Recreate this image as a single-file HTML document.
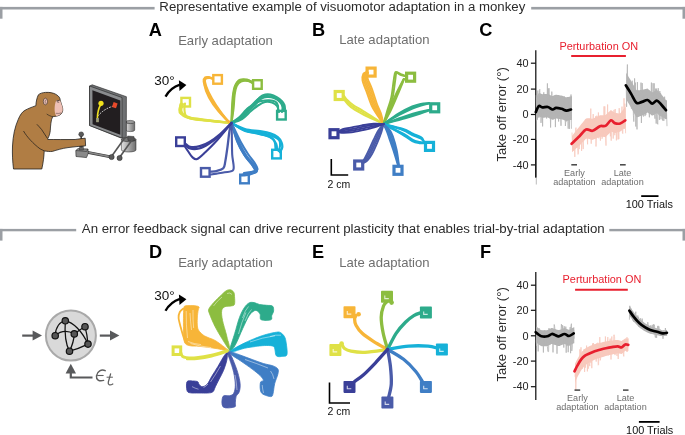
<!DOCTYPE html>
<html><head><meta charset="utf-8"><style>
html,body{margin:0;padding:0;background:#fff;}
svg{display:block;will-change:transform;}
</style></head><body>
<svg width="685" height="435" viewBox="0 0 685 435">
<rect width="685" height="435" fill="#fff"/>
<rect x="0" y="6.9" width="154.6" height="2.6" fill="#9b9fa4"/>
<rect x="0" y="6.9" width="2.5" height="11.8" fill="#9b9fa4"/>
<rect x="531.2" y="6.9" width="153.8" height="2.6" fill="#9b9fa4"/>
<rect x="682.5" y="6.9" width="2.5" height="11.8" fill="#9b9fa4"/>
<rect x="0" y="228.9" width="76.2" height="2.4" fill="#9b9fa4"/>
<rect x="0" y="228.9" width="2.5" height="11.7" fill="#9b9fa4"/>
<rect x="609.3" y="228.9" width="75.7" height="2.4" fill="#9b9fa4"/>
<rect x="682.5" y="228.9" width="2.5" height="11.7" fill="#9b9fa4"/>
<text x="159.35" y="11.0" font-size="13.22" fill="#2b2b2b" font-weight="normal" text-anchor="start" font-family='"Liberation Sans", sans-serif' >Representative example of visuomotor adaptation in a monkey</text>
<text x="81.8" y="232.8" font-size="13.25" fill="#2b2b2b" font-weight="normal" text-anchor="start" font-family='"Liberation Sans", sans-serif' >An error feedback signal can drive recurrent plasticity that enables trial-by-trial adaptation</text>
<text x="148.65" y="35.9" font-size="18.2" fill="#000" font-weight="bold" text-anchor="start" font-family='"Liberation Sans", sans-serif' >A</text>
<text x="312.0" y="35.9" font-size="18.2" fill="#000" font-weight="bold" text-anchor="start" font-family='"Liberation Sans", sans-serif' >B</text>
<text x="479.3" y="36.0" font-size="18.2" fill="#000" font-weight="bold" text-anchor="start" font-family='"Liberation Sans", sans-serif' >C</text>
<text x="149.0" y="258.2" font-size="18.2" fill="#000" font-weight="bold" text-anchor="start" font-family='"Liberation Sans", sans-serif' >D</text>
<text x="312.0" y="257.6" font-size="18.2" fill="#000" font-weight="bold" text-anchor="start" font-family='"Liberation Sans", sans-serif' >E</text>
<text x="479.9" y="257.9" font-size="18.2" fill="#000" font-weight="bold" text-anchor="start" font-family='"Liberation Sans", sans-serif' >F</text>
<text x="178.15" y="44.5" font-size="13.1" fill="#6e6e6e" font-weight="normal" text-anchor="start" font-family='"Liberation Sans", sans-serif' >Early adaptation</text>
<text x="339.25" y="44.2" font-size="13.1" fill="#6e6e6e" font-weight="normal" text-anchor="start" font-family='"Liberation Sans", sans-serif' >Late adaptation</text>
<text x="178.15" y="267.0" font-size="13.1" fill="#6e6e6e" font-weight="normal" text-anchor="start" font-family='"Liberation Sans", sans-serif' >Early adaptation</text>
<text x="339.25" y="266.6" font-size="13.1" fill="#6e6e6e" font-weight="normal" text-anchor="start" font-family='"Liberation Sans", sans-serif' >Late adaptation</text>
<text x="154.25" y="85.2" font-size="13.5" fill="#111" font-weight="normal" text-anchor="start" font-family='"Liberation Sans", sans-serif' >30°</text>
<path d="M165.5 96.6 Q170.5 87.6 180 84.6" fill="none" stroke="#000" stroke-width="2.3"/>
<path d="M186.4 85.1 L178.9 80.2 L179.5 90.9 Z" fill="#000"/>
<text x="154.25" y="299.76414" font-size="13.5" fill="#111" font-weight="normal" text-anchor="start" font-family='"Liberation Sans", sans-serif' >30°</text>
<path d="M165.5 310.79999999999995 Q170.5 301.79999999999995 180 298.79999999999995" fill="none" stroke="#000" stroke-width="2.3"/>
<path d="M186.4 299.29999999999995 L178.9 294.4 L179.5 305.1 Z" fill="#000"/>
<path d="M331.3 159.1 V175.0 H348.2" fill="none" stroke="#000" stroke-width="1.6"/>
<text x="327.6" y="187.9" font-size="10.5" fill="#111" font-weight="normal" text-anchor="start" font-family='"Liberation Sans", sans-serif' >2 cm</text>
<path d="M329.5 382.6 V403.0 H350.0" fill="none" stroke="#000" stroke-width="1.6"/>
<text x="327.6" y="414.90000000000003" font-size="10.5" fill="#111" font-weight="normal" text-anchor="start" font-family='"Liberation Sans", sans-serif' >2 cm</text>
<text transform="translate(505.6 114.35) rotate(-90)" x="0" y="0" font-size="13.07" fill="#2b2b2b" text-anchor="middle" font-family='"Liberation Sans", sans-serif'>Take off error (°)</text>
<path d="M535.8 50.3 V177.6" stroke="#111" stroke-width="1.25" fill="none"/>
<path d="M530.9 63.2 H535.8" stroke="#111" stroke-width="1.2"/>
<text x="528.6" y="66.9" font-size="10.9" fill="#222" font-weight="normal" text-anchor="end" font-family='"Liberation Sans", sans-serif' >40</text>
<path d="M530.9 89.1 H535.8" stroke="#111" stroke-width="1.2"/>
<text x="528.6" y="92.8" font-size="10.9" fill="#222" font-weight="normal" text-anchor="end" font-family='"Liberation Sans", sans-serif' >20</text>
<path d="M530.9 114.5 H535.8" stroke="#111" stroke-width="1.2"/>
<text x="528.6" y="118.2" font-size="10.9" fill="#222" font-weight="normal" text-anchor="end" font-family='"Liberation Sans", sans-serif' >0</text>
<path d="M530.9 139.4 H535.8" stroke="#111" stroke-width="1.2"/>
<text x="528.6" y="143.1" font-size="10.9" fill="#222" font-weight="normal" text-anchor="end" font-family='"Liberation Sans", sans-serif' >-20</text>
<path d="M530.9 164.9 H535.8" stroke="#111" stroke-width="1.2"/>
<text x="528.6" y="168.6" font-size="10.9" fill="#222" font-weight="normal" text-anchor="end" font-family='"Liberation Sans", sans-serif' >-40</text>
<text x="559.4" y="49.6" font-size="10.9" fill="#e8202f" font-weight="normal" text-anchor="start" font-family='"Liberation Sans", sans-serif' >Perturbation ON</text>
<path d="M571.2 56.0 H625.9" stroke="#e8202f" stroke-width="2"/>
<path d="M536.2 98.2 L537.1 96.3 L538.0 94.5 L538.9 92.8 L539.8 93.2 L540.7 93.6 L541.6 93.9 L542.5 94.2 L543.4 94.1 L544.3 94.1 L545.2 94.0 L546.0 93.9 L546.9 93.9 L547.8 93.8 L548.7 94.3 L549.6 94.8 L550.5 95.2 L551.4 95.7 L552.3 96.1 L553.2 96.0 L554.1 95.6 L555.0 95.1 L555.9 94.7 L556.8 94.7 L557.7 94.9 L558.6 95.0 L559.5 95.2 L560.4 95.4 L561.3 95.5 L562.2 95.8 L563.0 96.1 L563.9 96.5 L564.8 96.8 L565.7 97.2 L566.6 97.3 L567.5 97.1 L568.4 96.9 L569.3 96.7 L570.2 96.5 L571.1 96.3 L572.0 96.3 L572.0 120.0 L571.1 120.0 L570.2 120.1 L569.3 120.4 L568.4 120.6 L567.5 120.8 L566.6 121.0 L565.7 120.8 L564.8 120.5 L563.9 120.1 L563.0 119.8 L562.2 119.5 L561.3 119.2 L560.4 119.0 L559.5 118.9 L558.6 118.7 L557.7 118.5 L556.8 118.4 L555.9 118.4 L555.0 118.8 L554.1 119.2 L553.2 119.7 L552.3 119.8 L551.4 119.3 L550.5 118.9 L549.6 118.4 L548.7 117.9 L547.8 117.5 L546.9 117.5 L546.0 117.6 L545.2 117.6 L544.3 117.7 L543.4 117.8 L542.5 117.8 L541.6 117.6 L540.7 117.2 L539.8 116.8 L538.9 116.5 L538.0 118.1 L537.1 120.0 L536.2 121.8Z" fill="#b4b4b4"/>
<path d="M536.2 95.2L536.6 114.5L537.0 120.1L537.4 102.1L537.8 90.5L538.2 106.4L538.6 111.4L539.0 117.6L539.4 90.2L539.8 89.3L540.2 113.9L540.6 111.7L541.0 122.9L541.4 117.3L541.8 105.9L542.2 103.7L542.6 126.4L543.0 103.5L543.4 97.0L543.8 92.3L544.2 108.3L544.6 108.8L545.0 102.7L545.4 106.4L545.8 110.0L546.2 114.4L546.6 118.5L547.0 109.3L547.4 83.4L547.8 114.3L548.2 88.5L548.6 105.2L549.0 88.2L549.4 107.9L549.8 97.8L550.2 110.5L550.6 127.5L551.0 108.0L551.4 117.7L551.8 91.6L552.2 105.5L552.6 116.4L553.0 108.1L553.4 113.0L553.8 110.0L554.2 95.4L554.6 114.4L555.0 97.6L555.4 127.1L555.8 101.3L556.2 115.0L556.6 107.9L557.0 117.9L557.4 100.1L557.8 118.5L558.2 106.5L558.6 121.5L559.0 114.9L559.4 109.9L559.8 98.2L560.2 116.6L560.6 113.5L561.0 125.8L561.4 103.8L561.8 114.7L562.2 114.3L562.6 112.1L563.0 111.5L563.4 111.4L563.8 101.7L564.2 96.4L564.6 104.7L565.0 116.2L565.4 126.0L565.8 120.6L566.2 121.5L566.6 118.7L567.0 117.8L567.4 112.3L567.8 118.3L568.2 128.7L568.6 105.7L569.0 100.8L569.4 128.9L569.8 112.3L570.2 119.8L570.6 118.7L571.0 94.5L571.4 128.5L571.8 128.1" fill="none" stroke="#b4b4b4" stroke-width="0.8"/>
<path d="M572.0 135.9 L573.3 134.2 L574.7 132.5 L576.0 130.8 L577.4 129.1 L578.7 127.4 L580.1 125.7 L581.4 124.1 L582.7 122.4 L584.1 120.8 L585.4 119.1 L586.8 118.2 L588.1 118.2 L589.5 118.2 L590.8 118.4 L592.1 118.8 L593.5 118.5 L594.8 117.8 L596.2 117.1 L597.5 116.4 L598.9 115.7 L600.2 115.2 L601.5 115.2 L602.9 115.2 L604.2 115.2 L605.6 115.1 L606.9 113.8 L608.2 112.6 L609.6 111.3 L610.9 110.0 L612.3 110.9 L613.6 112.0 L615.0 112.9 L616.3 113.1 L617.6 113.3 L619.0 113.5 L620.3 113.3 L621.7 111.6 L623.0 109.8 L624.4 108.1 L625.7 107.1 L625.7 127.5 L624.4 128.2 L623.0 129.3 L621.7 130.5 L620.3 131.6 L619.0 132.0 L617.6 132.3 L616.3 132.7 L615.0 133.0 L613.6 132.6 L612.3 132.1 L610.9 131.6 L609.6 133.2 L608.2 134.5 L606.9 135.7 L605.6 136.9 L604.2 136.9 L602.9 136.8 L601.5 136.7 L600.2 136.7 L598.9 137.1 L597.5 137.7 L596.2 138.4 L594.8 139.0 L593.5 139.6 L592.1 139.9 L590.8 139.4 L589.5 139.0 L588.1 138.8 L586.8 138.6 L585.4 139.2 L584.1 140.7 L582.7 142.1 L581.4 143.5 L580.1 145.0 L578.7 146.2 L577.4 147.4 L576.0 148.6 L574.7 149.8 L573.3 151.0 L572.0 152.2Z" fill="#f8c9bd"/>
<path d="M572.0 132.5L572.4 145.0L572.8 140.4L573.2 138.4L573.6 150.5L574.0 142.0L574.4 138.8L574.8 156.9L575.2 136.1L575.6 129.1L576.0 127.6L576.4 134.5L576.8 144.8L577.2 146.2L577.6 148.5L578.0 154.4L578.4 153.2L578.8 143.0L579.2 149.1L579.6 142.5L580.0 130.5L580.4 143.4L580.8 135.9L581.2 132.8L581.6 150.9L582.0 141.3L582.4 128.7L582.8 132.6L583.2 149.1L583.6 129.9L584.0 138.9L584.4 137.4L584.8 136.0L585.2 136.3L585.6 125.2L586.0 125.0L586.4 128.4L586.8 126.1L587.2 137.5L587.6 144.3L588.0 120.0L588.4 135.4L588.8 118.9L589.2 122.4L589.6 128.0L590.0 131.7L590.4 125.7L590.8 108.6L591.2 143.7L591.6 128.0L592.0 123.7L592.4 137.6L592.8 124.2L593.2 114.1L593.6 135.4L594.0 134.5L594.4 120.6L594.8 138.1L595.2 133.4L595.6 116.3L596.0 146.5L596.4 131.6L596.8 115.7L597.2 133.0L597.6 129.5L598.0 137.9L598.4 112.5L598.8 138.3L599.2 137.1L599.6 134.3L600.0 133.2L600.4 140.7L600.8 134.4L601.2 128.1L601.6 117.4L602.0 138.7L602.4 137.3L602.8 129.9L603.2 128.3L603.6 134.5L604.0 106.4L604.4 130.1L604.8 106.4L605.2 129.2L605.6 138.2L606.0 145.6L606.4 120.4L606.8 130.0L607.2 124.0L607.6 104.5L608.0 132.3L608.4 123.3L608.8 123.9L609.2 112.6L609.6 121.8L610.0 122.8L610.4 136.3L610.8 124.4L611.2 140.7L611.6 117.0L612.0 118.8L612.4 121.3L612.8 113.7L613.2 138.6L613.6 129.6L614.0 109.9L614.4 124.5L614.8 135.2L615.2 109.0L615.6 125.1L616.0 121.2L616.4 140.4L616.8 127.6L617.2 119.6L617.6 118.1L618.0 139.5L618.4 119.1L618.8 139.1L619.2 108.2L619.6 122.0L620.0 121.6L620.4 116.6L620.8 121.4L621.2 128.9L621.6 115.8L622.0 106.6L622.4 133.0L622.8 133.6L623.2 113.8L623.6 124.0L624.0 98.3L624.4 128.9L624.8 103.6L625.2 113.6L625.6 133.3" fill="none" stroke="#f8c9bd" stroke-width="0.8"/>
<path d="M626.2 72.8 L627.2 74.5 L628.2 76.2 L629.3 77.9 L630.3 79.6 L631.3 81.3 L632.3 83.1 L633.3 84.8 L634.4 86.6 L635.4 88.3 L636.4 90.1 L637.4 90.4 L638.4 90.3 L639.5 90.2 L640.5 90.1 L641.5 90.0 L642.5 89.8 L643.5 89.5 L644.6 89.3 L645.6 89.0 L646.6 88.7 L647.6 88.5 L648.6 89.4 L649.7 90.3 L650.7 91.2 L651.7 92.1 L652.7 92.2 L653.7 91.6 L654.8 91.0 L655.8 90.4 L656.8 89.8 L657.8 90.8 L658.8 91.8 L659.9 92.8 L660.9 93.8 L661.9 95.0 L662.9 96.3 L663.9 97.6 L665.0 99.0 L666.0 100.3 L667.0 100.3 L667.0 119.0 L666.0 119.0 L665.0 118.4 L663.9 117.9 L662.9 117.3 L661.9 116.7 L660.9 116.3 L659.9 116.0 L658.8 115.0 L657.8 114.0 L656.8 113.1 L655.8 113.7 L654.8 114.3 L653.7 115.0 L652.7 115.6 L651.7 115.5 L650.7 114.6 L649.7 113.8 L648.6 113.2 L647.6 112.6 L646.6 113.1 L645.6 113.7 L644.6 114.2 L643.5 114.7 L642.5 115.3 L641.5 115.8 L640.5 116.1 L639.5 116.5 L638.4 116.9 L637.4 117.2 L636.4 117.2 L635.4 115.5 L634.4 113.7 L633.3 111.9 L632.3 110.0 L631.3 108.2 L630.3 106.4 L629.3 104.6 L628.2 102.8 L627.2 101.0 L626.2 99.2Z" fill="#b4b4b4"/>
<path d="M626.2 84.8L626.6 106.8L627.0 76.9L627.4 64.5L627.8 92.3L628.2 98.2L628.6 95.6L629.0 98.2L629.4 90.4L629.8 84.9L630.2 83.6L630.6 91.2L631.0 89.8L631.4 108.6L631.8 105.1L632.2 80.7L632.6 107.7L633.0 97.9L633.4 115.2L633.8 121.6L634.2 108.5L634.6 78.4L635.0 111.4L635.4 82.6L635.8 126.5L636.2 95.2L636.6 101.8L637.0 129.4L637.4 82.1L637.8 104.6L638.2 90.6L638.6 97.4L639.0 93.9L639.4 113.7L639.8 99.9L640.2 108.7L640.6 112.7L641.0 82.6L641.4 123.0L641.8 100.3L642.2 83.1L642.6 95.1L643.0 115.0L643.4 116.5L643.8 94.4L644.2 104.0L644.6 105.7L645.0 116.1L645.4 100.5L645.8 114.9L646.2 91.3L646.6 93.2L647.0 110.2L647.4 110.8L647.8 101.0L648.2 109.6L648.6 104.8L649.0 112.2L649.4 117.3L649.8 109.6L650.2 113.6L650.6 99.2L651.0 97.6L651.4 82.6L651.8 109.9L652.2 105.5L652.6 111.5L653.0 83.2L653.4 98.7L653.8 97.6L654.2 83.3L654.6 114.9L655.0 118.7L655.4 88.6L655.8 108.4L656.2 123.6L656.6 88.6L657.0 114.8L657.4 122.9L657.8 124.3L658.2 88.2L658.6 91.9L659.0 106.7L659.4 119.9L659.8 91.0L660.2 96.8L660.6 93.3L661.0 119.3L661.4 100.0L661.8 113.3L662.2 114.4L662.6 120.5L663.0 112.5L663.4 111.9L663.8 120.9L664.2 114.1L664.6 96.7L665.0 104.7L665.4 119.1L665.8 112.3L666.2 107.8L666.6 113.4L667.0 126.2" fill="none" stroke="#b4b4b4" stroke-width="0.8"/>
<path d="M535.80 112.20 C536.30 111.17 537.72 106.80 538.80 106.00 C539.88 105.20 540.80 107.23 542.30 107.40 C543.80 107.57 546.08 106.65 547.80 107.00 C549.52 107.35 551.22 109.37 552.60 109.50 C553.98 109.63 554.60 107.92 556.10 107.80 C557.60 107.68 559.88 108.33 561.60 108.80 C563.32 109.27 564.83 110.48 566.40 110.60 C567.97 110.72 570.23 109.68 571.00 109.50" fill="none" stroke="#000" stroke-width="2.7" stroke-linejoin="round" stroke-linecap="round"/>
<path d="M571.60 143.70 C572.95 142.42 577.28 138.37 579.70 136.00 C582.12 133.63 583.95 130.37 586.10 129.50 C588.25 128.63 590.30 131.35 592.60 130.80 C594.90 130.25 597.75 127.02 599.90 126.20 C602.05 125.38 603.65 126.88 605.50 125.90 C607.35 124.92 609.47 120.77 611.00 120.30 C612.53 119.83 613.17 122.57 614.70 123.10 C616.23 123.63 618.43 123.97 620.20 123.50 C621.97 123.03 624.45 120.83 625.30 120.30" fill="none" stroke="#e8202f" stroke-width="2.7" stroke-linejoin="round" stroke-linecap="round"/>
<path d="M625.80 85.30 C626.67 86.68 629.20 90.68 631.00 93.60 C632.80 96.52 634.77 101.42 636.60 102.80 C638.43 104.18 640.17 102.37 642.00 101.90 C643.83 101.43 645.90 99.70 647.60 100.00 C649.30 100.30 650.67 103.60 652.20 103.70 C653.73 103.80 655.27 100.43 656.80 100.60 C658.33 100.77 659.87 103.10 661.40 104.70 C662.93 106.30 665.23 109.28 666.00 110.20" fill="none" stroke="#000" stroke-width="2.7" stroke-linejoin="round" stroke-linecap="round"/>
<path d="M571.3 164.8 H577" stroke="#444" stroke-width="1.5"/>
<path d="M620 164.8 H625.7" stroke="#444" stroke-width="1.5"/>
<text x="574.4" y="175.8" font-size="9.1" fill="#6e6e6e" font-weight="normal" text-anchor="middle" font-family='"Liberation Sans", sans-serif' >Early</text>
<text x="574.4" y="184.9" font-size="9.1" fill="#6e6e6e" font-weight="normal" text-anchor="middle" font-family='"Liberation Sans", sans-serif' >adaptation</text>
<text x="622.5" y="175.8" font-size="9.1" fill="#6e6e6e" font-weight="normal" text-anchor="middle" font-family='"Liberation Sans", sans-serif' >Late</text>
<text x="622.5" y="184.9" font-size="9.1" fill="#6e6e6e" font-weight="normal" text-anchor="middle" font-family='"Liberation Sans", sans-serif' >adaptation</text>
<path d="M641.2 196.1 H658.5" stroke="#000" stroke-width="1.8"/>
<text x="625.7" y="208.2" font-size="10.9" fill="#111" font-weight="normal" text-anchor="start" font-family='"Liberation Sans", sans-serif' >100 Trials</text>
<text transform="translate(505.6 334.35) rotate(-90)" x="0" y="0" font-size="13.07" fill="#2b2b2b" text-anchor="middle" font-family='"Liberation Sans", sans-serif'>Take off error (°)</text>
<path d="M535.8 271.9 V400.0" stroke="#111" stroke-width="1.25" fill="none"/>
<path d="M530.9 285.2 H535.8" stroke="#111" stroke-width="1.2"/>
<text x="528.6" y="288.9" font-size="10.9" fill="#222" font-weight="normal" text-anchor="end" font-family='"Liberation Sans", sans-serif' >40</text>
<path d="M530.9 310.3 H535.8" stroke="#111" stroke-width="1.2"/>
<text x="528.6" y="314.0" font-size="10.9" fill="#222" font-weight="normal" text-anchor="end" font-family='"Liberation Sans", sans-serif' >20</text>
<path d="M530.9 335.8 H535.8" stroke="#111" stroke-width="1.2"/>
<text x="528.6" y="339.5" font-size="10.9" fill="#222" font-weight="normal" text-anchor="end" font-family='"Liberation Sans", sans-serif' >0</text>
<path d="M530.9 361.1 H535.8" stroke="#111" stroke-width="1.2"/>
<text x="528.6" y="364.8" font-size="10.9" fill="#222" font-weight="normal" text-anchor="end" font-family='"Liberation Sans", sans-serif' >-20</text>
<path d="M530.9 386.7 H535.8" stroke="#111" stroke-width="1.2"/>
<text x="528.6" y="390.4" font-size="10.9" fill="#222" font-weight="normal" text-anchor="end" font-family='"Liberation Sans", sans-serif' >-40</text>
<text x="562.6" y="283.2" font-size="10.9" fill="#e8202f" font-weight="normal" text-anchor="start" font-family='"Liberation Sans", sans-serif' >Perturbation ON</text>
<path d="M575.1 289.8 H627.8" stroke="#e8202f" stroke-width="2"/>
<path d="M536.2 326.6 L537.2 327.3 L538.1 328.1 L539.1 328.8 L540.0 329.4 L541.0 329.9 L541.9 330.2 L542.9 330.2 L543.8 330.2 L544.8 330.2 L545.7 330.2 L546.7 330.2 L547.6 330.0 L548.6 329.6 L549.5 329.1 L550.5 328.6 L551.4 328.1 L552.4 328.1 L553.3 328.4 L554.3 328.7 L555.2 329.0 L556.2 329.4 L557.2 329.7 L558.1 330.0 L559.1 330.1 L560.0 329.7 L561.0 329.4 L561.9 329.0 L562.9 328.6 L563.8 328.2 L564.8 328.1 L565.7 328.5 L566.7 328.9 L567.6 329.3 L568.6 329.7 L569.5 329.7 L570.5 329.2 L571.4 328.6 L572.4 328.1 L573.3 327.5 L574.3 327.3 L574.3 343.3 L573.3 343.5 L572.4 344.0 L571.4 344.6 L570.5 345.1 L569.5 345.7 L568.6 345.7 L567.6 345.3 L566.7 344.8 L565.7 344.4 L564.8 344.0 L563.8 344.2 L562.9 344.5 L561.9 344.9 L561.0 345.3 L560.0 345.7 L559.1 346.1 L558.1 346.0 L557.2 345.7 L556.2 345.3 L555.2 345.0 L554.3 344.7 L553.3 344.4 L552.4 344.1 L551.4 344.1 L550.5 344.6 L549.5 345.0 L548.6 345.5 L547.6 346.0 L546.7 346.2 L545.7 346.2 L544.8 346.2 L543.8 346.2 L542.9 346.2 L541.9 346.2 L541.0 345.9 L540.0 345.3 L539.1 344.7 L538.1 344.1 L537.2 343.3 L536.2 342.5Z" fill="#b4b4b4"/>
<path d="M536.2 340.3L536.6 346.0L537.0 328.7L537.4 328.4L537.8 337.6L538.2 351.4L538.6 338.8L539.0 328.0L539.4 330.6L539.8 335.1L540.2 345.1L540.6 336.0L541.0 334.0L541.4 335.1L541.8 338.3L542.2 332.1L542.6 336.6L543.0 339.2L543.4 352.5L543.8 336.1L544.2 346.0L544.6 330.4L545.0 344.9L545.4 338.2L545.8 333.3L546.2 336.4L546.6 345.4L547.0 334.6L547.4 346.5L547.8 351.1L548.2 351.9L548.6 351.6L549.0 328.1L549.4 338.8L549.8 331.2L550.2 344.3L550.6 335.7L551.0 336.9L551.4 339.0L551.8 330.7L552.2 335.4L552.6 330.2L553.0 352.4L553.4 332.0L553.8 335.1L554.2 324.5L554.6 326.3L555.0 330.2L555.4 343.2L555.8 343.1L556.2 338.5L556.6 332.0L557.0 353.7L557.4 330.0L557.8 331.1L558.2 341.2L558.6 330.6L559.0 339.1L559.4 345.8L559.8 335.7L560.2 340.0L560.6 336.3L561.0 331.6L561.4 324.2L561.8 328.0L562.2 335.2L562.6 325.2L563.0 331.5L563.4 336.8L563.8 347.6L564.2 326.2L564.6 331.1L565.0 336.8L565.4 339.9L565.8 326.6L566.2 352.7L566.6 330.3L567.0 346.1L567.4 334.3L567.8 339.8L568.2 352.2L568.6 343.1L569.0 337.6L569.4 330.1L569.8 331.9L570.2 327.1L570.6 353.2L571.0 325.9L571.4 323.7L571.8 350.9L572.2 347.1L572.6 332.1L573.0 342.3L573.4 328.9L573.8 330.2L574.2 338.7" fill="none" stroke="#b4b4b4" stroke-width="0.8"/>
<path d="M575.0 363.7 L576.3 361.0 L577.7 358.4 L579.0 356.2 L580.3 354.0 L581.7 352.1 L583.0 350.7 L584.3 349.3 L585.7 348.3 L587.0 347.6 L588.4 346.8 L589.7 346.1 L591.0 345.6 L592.4 345.1 L593.7 344.6 L595.0 344.1 L596.4 343.7 L597.7 343.4 L599.0 343.0 L600.4 342.7 L601.7 342.4 L603.0 342.1 L604.4 341.7 L605.7 341.4 L607.0 341.2 L608.4 341.0 L609.7 340.8 L611.0 340.6 L612.4 340.4 L613.7 340.3 L615.0 340.1 L616.4 340.0 L617.7 339.9 L619.1 340.3 L620.4 340.7 L621.7 341.0 L623.1 340.0 L624.4 338.9 L625.7 338.3 L627.1 338.6 L628.4 338.8 L628.4 350.9 L627.1 350.8 L625.7 350.7 L624.4 351.5 L623.1 352.7 L621.7 353.9 L620.4 353.8 L619.1 353.5 L617.7 353.3 L616.4 353.6 L615.0 353.9 L613.7 354.1 L612.4 354.4 L611.0 354.7 L609.7 355.0 L608.4 355.3 L607.0 355.7 L605.7 356.0 L604.4 356.4 L603.0 356.9 L601.7 357.3 L600.4 357.7 L599.0 358.2 L597.7 358.6 L596.4 359.1 L595.0 359.6 L593.7 360.2 L592.4 360.8 L591.0 361.5 L589.7 362.2 L588.4 363.1 L587.0 364.0 L585.7 365.0 L584.3 366.3 L583.0 367.9 L581.7 369.6 L580.3 371.7 L579.0 374.2 L577.7 376.6 L576.3 379.5 L575.0 382.4Z" fill="#f8c9bd"/>
<path d="M575.0 376.7L575.4 368.6L575.8 390.4L576.2 374.3L576.6 369.6L577.0 371.8L577.4 362.0L577.8 359.9L578.2 370.6L578.6 360.5L579.0 372.5L579.4 360.8L579.8 349.4L580.2 351.7L580.6 354.3L581.0 347.3L581.4 358.6L581.8 356.7L582.2 368.7L582.6 351.8L583.0 355.9L583.4 363.4L583.8 364.7L584.2 349.0L584.6 371.9L585.0 351.0L585.4 367.7L585.8 353.0L586.2 351.9L586.6 345.6L587.0 353.7L587.4 371.4L587.8 349.5L588.2 368.8L588.6 366.5L589.0 350.7L589.4 363.9L589.8 366.1L590.2 350.8L590.6 348.9L591.0 363.0L591.4 355.8L591.8 368.2L592.2 356.2L592.6 343.5L593.0 351.6L593.4 343.0L593.8 358.3L594.2 357.7L594.6 348.2L595.0 344.6L595.4 359.0L595.8 348.1L596.2 361.6L596.6 343.5L597.0 348.5L597.4 346.4L597.8 342.7L598.2 365.2L598.6 364.6L599.0 345.4L599.4 356.7L599.8 337.1L600.2 360.4L600.6 358.8L601.0 347.0L601.4 346.8L601.8 351.3L602.2 353.0L602.6 346.5L603.0 342.8L603.4 347.0L603.8 345.7L604.2 355.1L604.6 349.3L605.0 350.4L605.4 336.5L605.8 345.5L606.2 345.4L606.6 344.4L607.0 347.2L607.4 345.8L607.8 337.1L608.2 355.4L608.6 355.1L609.0 344.1L609.4 352.6L609.8 341.0L610.2 338.6L610.6 346.0L611.0 359.5L611.4 346.6L611.8 336.5L612.2 349.1L612.6 343.2L613.0 342.1L613.4 349.8L613.8 334.9L614.2 334.8L614.6 336.8L615.0 355.1L615.4 347.6L615.8 342.7L616.2 342.1L616.6 351.6L617.0 355.9L617.4 341.7L617.8 348.6L618.2 359.0L618.6 351.3L619.0 344.8L619.4 349.5L619.8 348.0L620.2 352.1L620.6 349.9L621.0 344.3L621.4 346.9L621.8 350.2L622.2 342.7L622.6 347.4L623.0 340.6L623.4 354.7L623.8 356.4L624.2 340.0L624.6 351.0L625.0 346.1L625.4 345.4L625.8 343.2L626.2 346.6L626.6 351.5L627.0 337.2L627.4 351.6L627.8 343.5L628.2 338.3" fill="none" stroke="#f8c9bd" stroke-width="0.8"/>
<path d="M629.4 305.8 L630.3 307.1 L631.3 308.5 L632.2 309.9 L633.2 311.3 L634.1 312.6 L635.0 313.7 L636.0 314.8 L636.9 315.9 L637.9 317.0 L638.8 318.1 L639.7 319.0 L640.7 319.8 L641.6 320.5 L642.6 321.3 L643.5 322.0 L644.4 322.8 L645.4 323.4 L646.3 323.9 L647.3 324.5 L648.2 325.0 L649.1 325.5 L650.1 326.1 L651.0 326.4 L652.0 326.7 L652.9 327.0 L653.8 327.4 L654.8 327.7 L655.7 328.0 L656.7 328.3 L657.6 328.6 L658.5 328.9 L659.5 329.2 L660.4 329.6 L661.4 329.9 L662.3 330.2 L663.2 330.4 L664.2 330.3 L665.1 330.2 L666.1 330.1 L667.0 330.1 L667.0 335.6 L666.1 335.7 L665.1 335.9 L664.2 336.1 L663.2 336.3 L662.3 336.3 L661.4 336.1 L660.4 335.9 L659.5 335.7 L658.5 335.5 L657.6 335.3 L656.7 335.1 L655.7 334.9 L654.8 334.7 L653.8 334.5 L652.9 334.3 L652.0 334.1 L651.0 333.9 L650.1 333.7 L649.1 333.3 L648.2 332.9 L647.3 332.4 L646.3 332.0 L645.4 331.6 L644.4 331.1 L643.5 330.4 L642.6 329.8 L641.6 329.1 L640.7 328.5 L639.7 327.8 L638.8 327.0 L637.9 326.0 L636.9 325.0 L636.0 323.9 L635.0 322.9 L634.1 321.9 L633.2 320.7 L632.2 319.5 L631.3 318.2 L630.3 316.9 L629.4 315.6Z" fill="#b4b4b4"/>
<path d="M629.4 319.7L629.8 305.8L630.2 313.4L630.6 311.1L631.0 308.7L631.4 310.7L631.8 311.6L632.2 314.2L632.6 317.1L633.0 320.6L633.4 317.3L633.8 322.0L634.2 319.3L634.6 318.1L635.0 317.0L635.4 314.0L635.8 311.7L636.2 319.0L636.6 319.1L637.0 321.7L637.4 322.2L637.8 315.5L638.2 318.5L638.6 317.1L639.0 326.9L639.4 322.4L639.8 323.7L640.2 319.6L640.6 318.3L641.0 321.6L641.4 323.9L641.8 326.6L642.2 318.6L642.6 326.7L643.0 322.0L643.4 323.7L643.8 324.8L644.2 324.7L644.6 328.6L645.0 330.6L645.4 328.6L645.8 325.2L646.2 329.3L646.6 329.3L647.0 331.4L647.4 329.3L647.8 322.2L648.2 325.7L648.6 327.3L649.0 332.6L649.4 328.8L649.8 332.9L650.2 330.8L650.6 325.4L651.0 330.1L651.4 332.1L651.8 331.6L652.2 324.9L652.6 331.9L653.0 328.4L653.4 324.3L653.8 328.7L654.2 324.6L654.6 326.4L655.0 335.9L655.4 337.6L655.8 334.8L656.2 332.8L656.6 337.8L657.0 332.6L657.4 328.4L657.8 325.9L658.2 334.8L658.6 326.2L659.0 326.4L659.4 330.1L659.8 332.5L660.2 329.7L660.6 335.8L661.0 332.4L661.4 333.4L661.8 334.3L662.2 331.3L662.6 333.8L663.0 338.8L663.4 330.4L663.8 333.5L664.2 334.5L664.6 331.4L665.0 332.8L665.4 328.0L665.8 331.6L666.2 332.8L666.6 335.7L667.0 335.2" fill="none" stroke="#b4b4b4" stroke-width="0.8"/>
<path d="M535.70 332.20 C536.17 332.58 537.53 333.82 538.50 334.50 C539.47 335.18 540.05 336.00 541.50 336.30 C542.95 336.60 545.48 336.68 547.20 336.30 C548.92 335.92 550.50 334.22 551.80 334.00 C553.10 333.78 553.85 334.62 555.00 335.00 C556.15 335.38 557.12 336.47 558.70 336.30 C560.28 336.13 562.77 334.05 564.50 334.00 C566.23 333.95 567.57 336.10 569.10 336.00 C570.63 335.90 572.93 333.83 573.70 333.40" fill="none" stroke="#000" stroke-width="2.7" stroke-linejoin="round" stroke-linecap="round"/>
<path d="M574.50 371.30 C575.00 370.32 576.38 367.38 577.50 365.40 C578.62 363.42 579.95 361.03 581.20 359.40 C582.45 357.77 583.63 356.60 585.00 355.60 C586.37 354.60 587.78 354.13 589.40 353.40 C591.02 352.67 592.95 351.82 594.70 351.20 C596.45 350.58 598.03 350.20 599.90 349.70 C601.77 349.20 603.90 348.63 605.90 348.20 C607.90 347.77 609.92 347.40 611.90 347.10 C613.88 346.80 616.18 346.35 617.80 346.40 C619.42 346.45 620.35 347.73 621.60 347.40 C622.85 347.07 624.18 344.82 625.30 344.40 C626.42 343.98 627.80 344.82 628.30 344.90" fill="none" stroke="#e8202f" stroke-width="2.7" stroke-linejoin="round" stroke-linecap="round"/>
<path d="M629.40 310.70 C630.13 311.73 632.15 314.83 633.80 316.90 C635.45 318.97 637.47 321.38 639.30 323.10 C641.13 324.82 642.97 326.05 644.80 327.20 C646.63 328.35 648.23 329.23 650.30 330.00 C652.37 330.77 655.12 331.23 657.20 331.80 C659.28 332.37 661.18 333.23 662.80 333.40 C664.42 333.57 666.22 332.90 666.90 332.80" fill="none" stroke="#000" stroke-width="2.7" stroke-linejoin="round" stroke-linecap="round"/>
<path d="M574.5 390.1 H580.2" stroke="#444" stroke-width="1.5"/>
<path d="M623 390.1 H628.5" stroke="#444" stroke-width="1.5"/>
<text x="577.4" y="400.7" font-size="9.1" fill="#6e6e6e" font-weight="normal" text-anchor="middle" font-family='"Liberation Sans", sans-serif' >Early</text>
<text x="577.4" y="409.6" font-size="9.1" fill="#6e6e6e" font-weight="normal" text-anchor="middle" font-family='"Liberation Sans", sans-serif' >adaptation</text>
<text x="625.5" y="400.7" font-size="9.1" fill="#6e6e6e" font-weight="normal" text-anchor="middle" font-family='"Liberation Sans", sans-serif' >Late</text>
<text x="625.5" y="409.6" font-size="9.1" fill="#6e6e6e" font-weight="normal" text-anchor="middle" font-family='"Liberation Sans", sans-serif' >adaptation</text>
<path d="M638.9 421.9 H659.6" stroke="#000" stroke-width="1.8"/>
<text x="626.1" y="433.5" font-size="10.9" fill="#111" font-weight="normal" text-anchor="start" font-family='"Liberation Sans", sans-serif' >100 Trials</text>
<path d="M536.3 160 V184.5" stroke="#b4b4b4" stroke-width="0.9"/>
<path d="M535.8 140 V177.6" stroke="#111" stroke-width="1.25"/>
<path d="M383.50 124.00 C381.16 122.92 373.08 119.24 369.44 117.52 C365.79 115.79 364.70 115.35 361.62 113.64 C358.55 111.93 353.74 109.35 350.98 107.25 C348.23 105.15 346.37 102.88 345.10 101.04 C343.83 99.19 343.64 97.00 343.35 96.19" fill="none" stroke="#dfe146" stroke-width="1.9" stroke-linecap="round" stroke-linejoin="round" opacity="1"/>
<path d="M383.50 124.00 C381.25 122.75 373.52 118.45 370.00 116.50 C366.48 114.55 365.42 114.05 362.40 112.30 C359.38 110.55 354.63 108.00 351.90 106.00 C349.17 104.00 347.37 101.97 346.00 100.30 C344.63 98.63 344.08 96.72 343.70 96.00" fill="none" stroke="#dfe146" stroke-width="1.9" stroke-linecap="round" stroke-linejoin="round" opacity="1"/>
<path d="M383.50 124.00 C381.34 122.58 373.95 117.66 370.56 115.48 C367.18 113.31 366.14 112.75 363.18 110.96 C360.22 109.17 355.53 106.65 352.82 104.75 C350.10 102.85 348.36 101.05 346.90 99.56 C345.44 98.07 344.53 96.44 344.05 95.81" fill="none" stroke="#dfe146" stroke-width="1.9" stroke-linecap="round" stroke-linejoin="round" opacity="1"/>
<rect x="335.20" y="91.50" width="8.0" height="8.0" fill="none" stroke="#dfe146" stroke-width="3.2"/>
<path d="M383.50 124.00 C382.45 122.48 379.17 117.88 377.22 114.86 C375.26 111.83 373.58 109.83 371.75 105.85 C369.93 101.86 367.82 95.13 366.28 90.93 C364.75 86.74 363.03 83.51 362.53 80.68 C362.04 77.84 362.56 75.42 363.30 73.93 C364.05 72.45 366.37 72.12 366.98 71.76" fill="none" stroke="#f7b538" stroke-width="1.9" stroke-linecap="round" stroke-linejoin="round" opacity="1"/>
<path d="M383.50 124.00 C382.60 122.40 379.85 117.54 378.11 114.43 C376.36 111.31 374.76 109.32 373.03 105.32 C371.29 101.32 369.22 94.58 367.69 90.42 C366.16 86.25 364.44 83.04 363.87 80.34 C363.29 77.64 363.69 75.60 364.25 74.22 C364.81 72.83 366.74 72.39 367.24 72.03" fill="none" stroke="#f7b538" stroke-width="1.9" stroke-linecap="round" stroke-linejoin="round" opacity="1"/>
<path d="M383.50 124.00 C382.75 122.33 380.53 117.20 379.00 114.00 C377.47 110.80 375.95 108.82 374.30 104.80 C372.65 100.78 370.62 94.03 369.10 89.90 C367.58 85.77 365.85 82.57 365.20 80.00 C364.55 77.43 364.82 75.78 365.20 74.50 C365.58 73.22 367.12 72.67 367.50 72.30" fill="none" stroke="#f7b538" stroke-width="1.9" stroke-linecap="round" stroke-linejoin="round" opacity="1"/>
<path d="M383.50 124.00 C382.90 122.26 381.21 116.86 379.89 113.57 C378.57 110.29 377.14 108.31 375.57 104.28 C374.01 100.25 372.01 93.49 370.51 89.38 C369.00 85.28 367.26 82.10 366.53 79.66 C365.81 77.23 365.94 75.97 366.15 74.78 C366.35 73.60 367.49 72.94 367.76 72.57" fill="none" stroke="#f7b538" stroke-width="1.9" stroke-linecap="round" stroke-linejoin="round" opacity="1"/>
<path d="M383.50 124.00 C383.05 122.19 381.89 116.52 380.78 113.14 C379.68 109.77 378.32 107.80 376.85 103.75 C375.37 99.71 373.41 92.94 371.92 88.87 C370.42 84.79 368.67 81.62 367.87 79.32 C367.06 77.02 367.07 76.15 367.10 75.07 C367.12 73.99 367.86 73.21 368.02 72.84" fill="none" stroke="#f7b538" stroke-width="1.9" stroke-linecap="round" stroke-linejoin="round" opacity="1"/>
<rect x="367.10" y="68.10" width="8.0" height="8.0" fill="none" stroke="#f7b538" stroke-width="3.2"/>
<path d="M383.50 124.00 C384.17 121.64 386.22 114.31 387.53 109.85 C388.83 105.39 390.29 102.25 391.33 97.25 C392.37 92.26 393.06 84.09 393.76 79.88 C394.46 75.67 394.38 72.97 395.54 71.99 C396.69 71.02 399.02 73.40 400.67 74.04 C402.33 74.67 404.66 75.52 405.45 75.82" fill="none" stroke="#8cbd40" stroke-width="1.9" stroke-linecap="round" stroke-linejoin="round" opacity="1"/>
<path d="M383.50 124.00 C384.33 121.69 386.94 114.56 388.47 110.15 C390.00 105.74 391.54 102.55 392.67 97.55 C393.80 92.54 394.61 84.21 395.24 80.12 C395.87 76.03 395.62 73.87 396.46 73.01 C397.31 72.15 398.85 74.44 400.33 74.96 C401.81 75.49 404.51 75.98 405.35 76.18" fill="none" stroke="#8cbd40" stroke-width="1.9" stroke-linecap="round" stroke-linejoin="round" opacity="1"/>
<rect x="406.60" y="73.20" width="8.0" height="8.0" fill="none" stroke="#8cbd40" stroke-width="3.2"/>
<path d="M383.50 124.00 C384.44 121.60 387.05 114.69 389.16 109.62 C391.27 104.56 393.74 98.75 396.16 93.62 C398.58 88.50 402.42 81.35 403.67 78.90" fill="none" stroke="#8cbd40" stroke-width="1.9" stroke-linecap="round" stroke-linejoin="round" opacity="1"/>
<path d="M383.50 124.00 C384.58 121.67 387.75 115.00 390.00 110.00 C392.25 105.00 394.68 99.17 397.00 94.00 C399.32 88.83 402.75 81.50 403.90 79.00" fill="none" stroke="#8cbd40" stroke-width="1.9" stroke-linecap="round" stroke-linejoin="round" opacity="1"/>
<path d="M383.50 124.00 C384.72 121.73 388.45 115.31 390.84 110.38 C393.23 105.44 395.62 99.59 397.84 94.38 C400.05 89.16 403.08 81.65 404.13 79.10" fill="none" stroke="#8cbd40" stroke-width="1.9" stroke-linecap="round" stroke-linejoin="round" opacity="1"/>
<path d="M383.50 124.00 C385.98 122.27 393.61 116.51 398.40 113.59 C403.18 110.67 408.48 108.10 412.20 106.48 C415.92 104.87 417.89 104.48 420.70 103.91 C423.51 103.34 427.67 103.20 429.06 103.05" fill="none" stroke="#2dab8b" stroke-width="1.9" stroke-linecap="round" stroke-linejoin="round" opacity="1"/>
<path d="M383.50 124.00 C386.05 122.38 393.95 117.07 398.80 114.30 C403.65 111.53 408.92 109.00 412.60 107.40 C416.28 105.80 418.15 105.38 420.90 104.70 C423.65 104.02 427.73 103.53 429.10 103.30" fill="none" stroke="#2dab8b" stroke-width="1.9" stroke-linecap="round" stroke-linejoin="round" opacity="1"/>
<path d="M383.50 124.00 C386.12 122.50 394.29 117.62 399.20 115.01 C404.12 112.39 409.35 109.90 413.00 108.32 C416.65 106.73 418.41 106.28 421.10 105.49 C423.79 104.69 427.80 103.87 429.14 103.55" fill="none" stroke="#2dab8b" stroke-width="1.9" stroke-linecap="round" stroke-linejoin="round" opacity="1"/>
<rect x="430.70" y="103.80" width="8.0" height="8.0" fill="none" stroke="#2dab8b" stroke-width="3.2"/>
<path d="M383.50 124.00 C387.15 122.70 399.47 118.22 405.43 116.22 C411.39 114.23 415.31 113.06 419.24 112.02 C423.17 110.98 427.40 110.30 429.03 109.96" fill="none" stroke="#2dab8b" stroke-width="1.9" stroke-linecap="round" stroke-linejoin="round" opacity="1"/>
<path d="M383.50 124.00 C387.20 122.85 399.70 118.95 405.70 117.10 C411.70 115.25 415.60 114.05 419.50 112.90 C423.40 111.75 427.50 110.65 429.10 110.20" fill="none" stroke="#2dab8b" stroke-width="1.9" stroke-linecap="round" stroke-linejoin="round" opacity="1"/>
<path d="M383.50 124.00 C387.25 123.00 399.93 119.68 405.97 117.98 C412.01 116.27 415.89 115.04 419.76 113.78 C423.63 112.52 427.60 111.00 429.17 110.44" fill="none" stroke="#2dab8b" stroke-width="1.9" stroke-linecap="round" stroke-linejoin="round" opacity="1"/>
<path d="M383.50 124.00 C386.77 124.81 398.21 127.29 403.12 128.89 C408.02 130.48 409.91 132.18 412.93 133.57 C415.96 134.97 419.45 136.03 421.24 137.25 C423.03 138.46 423.25 140.27 423.66 140.87" fill="none" stroke="#16b1d8" stroke-width="1.9" stroke-linecap="round" stroke-linejoin="round" opacity="1"/>
<path d="M383.50 124.00 C386.73 124.92 398.05 127.78 402.90 129.50 C407.75 131.22 409.60 132.92 412.60 134.30 C415.60 135.68 419.08 136.68 420.90 137.80 C422.72 138.92 423.07 140.47 423.50 141.00" fill="none" stroke="#16b1d8" stroke-width="1.9" stroke-linecap="round" stroke-linejoin="round" opacity="1"/>
<path d="M383.50 124.00 C386.70 125.02 397.89 128.27 402.68 130.11 C407.48 131.95 409.29 133.65 412.27 135.03 C415.24 136.40 418.71 137.34 420.56 138.35 C422.41 139.37 422.88 140.66 423.34 141.13" fill="none" stroke="#16b1d8" stroke-width="1.9" stroke-linecap="round" stroke-linejoin="round" opacity="1"/>
<rect x="425.50" y="142.40" width="8.0" height="8.0" fill="none" stroke="#16b1d8" stroke-width="3.2"/>
<path d="M383.50 124.00 C387.02 125.74 399.71 131.80 404.62 134.43 C409.53 137.07 410.45 138.53 412.96 139.78 C415.46 141.04 417.88 141.46 419.65 141.97 C421.41 142.47 422.87 142.66 423.52 142.80" fill="none" stroke="#16b1d8" stroke-width="1.9" stroke-linecap="round" stroke-linejoin="round" opacity="1"/>
<path d="M383.50 124.00 C386.97 125.83 399.45 132.25 404.30 135.00 C409.15 137.75 410.07 139.23 412.60 140.50 C415.13 141.77 417.68 142.18 419.50 142.60 C421.32 143.02 422.83 142.93 423.50 143.00" fill="none" stroke="#16b1d8" stroke-width="1.9" stroke-linecap="round" stroke-linejoin="round" opacity="1"/>
<path d="M383.50 124.00 C386.91 125.93 399.19 132.70 403.98 135.57 C408.77 138.43 409.68 139.94 412.24 141.22 C414.80 142.49 417.48 142.90 419.35 143.23 C421.23 143.56 422.79 143.20 423.48 143.20" fill="none" stroke="#16b1d8" stroke-width="1.9" stroke-linecap="round" stroke-linejoin="round" opacity="1"/>
<path d="M383.50 124.00 C384.57 125.03 388.33 128.06 389.92 130.20 C391.50 132.35 391.87 133.56 392.99 136.86 C394.12 140.15 395.69 145.31 396.67 149.98 C397.65 154.66 398.52 162.41 398.89 164.89" fill="none" stroke="#3f7ec5" stroke-width="1.9" stroke-linecap="round" stroke-linejoin="round" opacity="1"/>
<path d="M383.50 124.00 C384.41 125.12 387.60 128.52 388.97 130.73 C390.34 132.95 390.62 134.03 391.73 137.29 C392.84 140.54 394.48 145.65 395.62 150.26 C396.76 154.87 398.07 162.51 398.56 164.96" fill="none" stroke="#3f7ec5" stroke-width="1.9" stroke-linecap="round" stroke-linejoin="round" opacity="1"/>
<path d="M383.50 124.00 C384.25 125.21 386.87 128.98 388.03 131.27 C389.19 133.55 389.38 134.50 390.47 137.71 C391.56 140.93 393.28 145.99 394.58 150.54 C395.87 155.09 397.63 162.62 398.24 165.04" fill="none" stroke="#3f7ec5" stroke-width="1.9" stroke-linecap="round" stroke-linejoin="round" opacity="1"/>
<path d="M383.50 124.00 C384.10 125.30 386.13 129.44 387.08 131.80 C388.04 134.15 388.13 134.97 389.21 138.14 C390.28 141.31 392.08 146.32 393.53 150.82 C394.98 155.31 397.18 162.73 397.91 165.11" fill="none" stroke="#3f7ec5" stroke-width="1.9" stroke-linecap="round" stroke-linejoin="round" opacity="1"/>
<rect x="394.00" y="166.30" width="8.0" height="8.0" fill="none" stroke="#3f7ec5" stroke-width="3.2"/>
<path d="M383.50 124.00 C383.17 125.29 382.46 128.82 381.51 131.71 C380.57 134.60 379.42 137.61 377.83 141.32 C376.24 145.04 373.74 150.82 371.99 154.02 C370.23 157.22 368.85 158.99 367.32 160.52 C365.79 162.06 363.54 162.77 362.79 163.22" fill="none" stroke="#4a5ba9" stroke-width="1.9" stroke-linecap="round" stroke-linejoin="round" opacity="1"/>
<path d="M383.50 124.00 C383.00 125.21 381.67 128.45 380.50 131.24 C379.33 134.02 378.12 137.02 376.48 140.71 C374.84 144.39 372.33 150.15 370.66 153.34 C368.99 156.53 367.80 158.24 366.44 159.84 C365.09 161.44 363.18 162.42 362.53 162.94" fill="none" stroke="#4a5ba9" stroke-width="1.9" stroke-linecap="round" stroke-linejoin="round" opacity="1"/>
<path d="M383.50 124.00 C382.83 125.13 380.89 128.08 379.50 130.76 C378.10 133.45 376.82 136.44 375.12 140.09 C373.43 143.74 370.93 149.48 369.34 152.66 C367.74 155.84 366.74 157.49 365.56 159.16 C364.38 160.82 362.82 162.08 362.27 162.66" fill="none" stroke="#4a5ba9" stroke-width="1.9" stroke-linecap="round" stroke-linejoin="round" opacity="1"/>
<path d="M383.50 124.00 C382.66 125.05 380.11 127.71 378.49 130.29 C376.86 132.87 375.51 135.86 373.77 139.48 C372.02 143.09 369.53 148.81 368.01 151.98 C366.50 155.15 365.68 156.74 364.68 158.48 C363.68 160.21 362.46 161.73 362.01 162.38" fill="none" stroke="#4a5ba9" stroke-width="1.9" stroke-linecap="round" stroke-linejoin="round" opacity="1"/>
<rect x="354.70" y="161.00" width="8.0" height="8.0" fill="none" stroke="#4a5ba9" stroke-width="3.2"/>
<path d="M383.50 124.00 C381.97 124.55 377.75 126.28 374.31 127.29 C370.87 128.30 366.68 129.23 362.87 130.08 C359.05 130.93 354.67 131.94 351.41 132.39 C348.14 132.84 345.29 132.79 343.27 132.80 C341.26 132.80 339.99 132.48 339.33 132.41" fill="none" stroke="#3a3f98" stroke-width="1.9" stroke-linecap="round" stroke-linejoin="round" opacity="1"/>
<path d="M383.50 124.00 C381.93 124.35 377.60 125.35 374.10 126.10 C370.61 126.85 366.38 127.71 362.56 128.49 C358.73 129.28 354.38 130.28 351.14 130.80 C347.89 131.31 345.07 131.40 343.09 131.60 C341.11 131.80 339.88 131.94 339.24 132.00" fill="none" stroke="#3a3f98" stroke-width="1.9" stroke-linecap="round" stroke-linejoin="round" opacity="1"/>
<path d="M383.50 124.00 C381.90 124.15 377.44 124.42 373.90 124.90 C370.35 125.39 366.08 126.19 362.24 126.91 C358.41 127.62 354.09 128.62 350.86 129.20 C347.64 129.79 344.86 130.00 342.91 130.40 C340.96 130.80 339.78 131.40 339.16 131.60" fill="none" stroke="#3a3f98" stroke-width="1.9" stroke-linecap="round" stroke-linejoin="round" opacity="1"/>
<path d="M383.50 124.00 C381.86 123.95 377.28 123.49 373.69 123.71 C370.09 123.93 365.78 124.67 361.93 125.32 C358.09 125.97 353.79 126.96 350.59 127.61 C347.39 128.26 344.65 128.61 342.73 129.20 C340.81 129.80 339.68 130.86 339.07 131.19" fill="none" stroke="#3a3f98" stroke-width="1.9" stroke-linecap="round" stroke-linejoin="round" opacity="1"/>
<rect x="330.00" y="129.70" width="8.0" height="8.0" fill="none" stroke="#3a3f98" stroke-width="3.2"/>
<path d="M231.50 123.00 C226.25 122.33 207.42 120.03 200.00 119.00 C192.58 117.97 189.58 118.30 187.00 116.80 C184.42 115.30 184.83 112.22 184.50 110.00 C184.17 107.78 184.92 104.58 185.00 103.50" fill="none" stroke="#dfe146" stroke-width="2.1" stroke-linecap="round" stroke-linejoin="round" opacity="1"/>
<path d="M231.50 123.00 C227.08 122.53 212.08 121.03 205.00 120.20 C197.92 119.37 192.92 119.45 189.00 118.00 C185.08 116.55 182.50 113.83 181.50 111.50 C180.50 109.17 182.75 105.25 183.00 104.00" fill="none" stroke="#dfe146" stroke-width="2.1" stroke-linecap="round" stroke-linejoin="round" opacity="1"/>
<path d="M231.50 123.00 C227.92 122.67 216.08 121.58 210.00 121.00 C203.92 120.42 199.50 120.42 195.00 119.50 C190.50 118.58 185.50 117.08 183.00 115.50 C180.50 113.92 180.42 111.92 180.00 110.00 C179.58 108.08 180.42 105.00 180.50 104.00" fill="none" stroke="#dfe146" stroke-width="2.1" stroke-linecap="round" stroke-linejoin="round" opacity="1"/>
<path d="M231.50 123.00 C227.48 122.58 213.92 121.28 207.40 120.50 C200.88 119.72 196.80 119.42 192.40 118.30 C188.00 117.18 183.15 115.30 181.00 113.80 C178.85 112.30 179.42 111.05 179.50 109.30 C179.58 107.55 181.17 104.30 181.50 103.30" fill="none" stroke="#dfe146" stroke-width="2.3" stroke-linecap="round" stroke-linejoin="round" opacity="1"/>
<rect x="181.40" y="97.90" width="8.6" height="8.6" fill="none" stroke="#dfe146" stroke-width="2.4"/>
<path d="M231.50 123.00 C230.50 122.33 228.55 122.08 225.50 119.00 C222.45 115.92 216.45 109.17 213.20 104.50 C209.95 99.83 207.45 95.00 206.00 91.00 C204.55 87.00 204.33 82.75 204.50 80.50 C204.67 78.25 205.75 77.83 207.00 77.50 C208.25 77.17 211.17 78.33 212.00 78.50" fill="none" stroke="#f7b538" stroke-width="2.1" stroke-linecap="round" stroke-linejoin="round" opacity="1"/>
<path d="M231.50 123.00 C230.83 122.58 230.08 123.50 227.50 120.50 C224.92 117.50 219.17 109.75 216.00 105.00 C212.83 100.25 210.33 95.83 208.50 92.00 C206.67 88.17 205.42 84.25 205.00 82.00 C204.58 79.75 205.17 79.17 206.00 78.50 C206.83 77.83 209.33 78.08 210.00 78.00" fill="none" stroke="#f7b538" stroke-width="2.1" stroke-linecap="round" stroke-linejoin="round" opacity="1"/>
<path d="M231.50 123.00 C230.72 122.47 229.58 122.83 226.80 119.80 C224.02 116.77 218.03 109.53 214.80 104.80 C211.57 100.07 209.23 95.28 207.40 91.40 C205.57 87.52 204.15 83.82 203.80 81.50 C203.45 79.18 204.43 78.22 205.30 77.50 C206.17 76.78 207.72 77.00 209.00 77.20 C210.28 77.40 212.33 78.45 213.00 78.70" fill="none" stroke="#f7b538" stroke-width="2.3" stroke-linecap="round" stroke-linejoin="round" opacity="1"/>
<rect x="213.30" y="75.10" width="8.6" height="8.6" fill="none" stroke="#f7b538" stroke-width="2.4"/>
<path d="M231.50 123.00 C231.85 120.50 233.08 112.67 233.60 108.00 C234.12 103.33 234.08 98.67 234.60 95.00 C235.12 91.33 235.63 88.25 236.70 86.00 C237.77 83.75 239.12 82.33 241.00 81.50 C242.88 80.67 246.00 80.67 248.00 81.00 C250.00 81.33 252.17 83.08 253.00 83.50" fill="none" stroke="#8cbd40" stroke-width="2.1" stroke-linecap="round" stroke-linejoin="round" opacity="1"/>
<path d="M231.50 123.00 C231.58 120.50 231.75 112.67 232.00 108.00 C232.25 103.33 232.50 98.67 233.00 95.00 C233.50 91.33 233.92 88.50 235.00 86.00 C236.08 83.50 237.50 81.08 239.50 80.00 C241.50 78.92 244.92 79.17 247.00 79.50 C249.08 79.83 251.17 81.58 252.00 82.00" fill="none" stroke="#8cbd40" stroke-width="2.1" stroke-linecap="round" stroke-linejoin="round" opacity="1"/>
<path d="M231.50 123.00 C231.68 120.50 232.25 112.67 232.60 108.00 C232.95 103.33 233.08 98.73 233.60 95.00 C234.12 91.27 234.63 88.02 235.70 85.60 C236.77 83.18 238.05 81.38 240.00 80.50 C241.95 79.62 245.30 79.95 247.40 80.30 C249.50 80.65 251.73 82.22 252.60 82.60" fill="none" stroke="#8cbd40" stroke-width="2.3" stroke-linecap="round" stroke-linejoin="round" opacity="1"/>
<rect x="253.10" y="80.20" width="8.6" height="8.6" fill="none" stroke="#8cbd40" stroke-width="2.4"/>
<path d="M231.50 123.00 C233.08 122.00 237.92 119.33 241.00 117.00 C244.08 114.67 247.50 111.33 250.00 109.00 C252.50 106.67 254.08 104.33 256.00 103.00 C257.92 101.67 259.32 101.45 261.50 101.00 C263.68 100.55 266.78 100.20 269.10 100.30 C271.42 100.40 273.93 100.75 275.40 101.60 C276.87 102.45 277.48 103.72 277.90 105.40 C278.32 107.08 277.90 110.65 277.90 111.70" fill="none" stroke="#2dab8b" stroke-width="2.1" stroke-linecap="round" stroke-linejoin="round" opacity="1"/>
<path d="M231.50 123.00 C233.17 122.17 238.58 120.08 241.50 118.00 C244.42 115.92 246.75 112.67 249.00 110.50 C251.25 108.33 253.00 106.92 255.00 105.00 C257.00 103.08 259.00 100.33 261.00 99.00 C263.00 97.67 264.83 97.17 267.00 97.00 C269.17 96.83 271.83 97.17 274.00 98.00 C276.17 98.83 278.58 100.50 280.00 102.00 C281.42 103.50 282.17 105.33 282.50 107.00 C282.83 108.67 282.08 111.17 282.00 112.00" fill="none" stroke="#2dab8b" stroke-width="2.1" stroke-linecap="round" stroke-linejoin="round" opacity="1"/>
<path d="M231.50 123.00 C232.75 122.08 236.58 119.67 239.00 117.50 C241.42 115.33 243.83 112.08 246.00 110.00 C248.17 107.92 249.83 106.92 252.00 105.00 C254.17 103.08 256.67 100.00 259.00 98.50 C261.33 97.00 263.67 96.25 266.00 96.00 C268.33 95.75 270.83 96.25 273.00 97.00 C275.17 97.75 277.33 99.08 279.00 100.50 C280.67 101.92 282.25 103.75 283.00 105.50 C283.75 107.25 283.42 110.08 283.50 111.00" fill="none" stroke="#2dab8b" stroke-width="2.1" stroke-linecap="round" stroke-linejoin="round" opacity="1"/>
<path d="M231.50 123.00 C233.25 122.33 238.75 121.00 242.00 119.00 C245.25 117.00 248.33 113.25 251.00 111.00 C253.67 108.75 255.67 107.00 258.00 105.50 C260.33 104.00 262.67 102.50 265.00 102.00 C267.33 101.50 270.00 101.83 272.00 102.50 C274.00 103.17 275.83 104.42 277.00 106.00 C278.17 107.58 278.67 111.00 279.00 112.00" fill="none" stroke="#2dab8b" stroke-width="2.1" stroke-linecap="round" stroke-linejoin="round" opacity="1"/>
<path d="M231.50 123.00 C232.92 122.17 237.32 120.30 240.00 118.00 C242.68 115.70 245.28 111.52 247.60 109.20 C249.92 106.88 251.80 106.10 253.90 104.10 C256.00 102.10 258.30 98.77 260.20 97.20 C262.10 95.63 263.62 95.12 265.30 94.70 C266.98 94.28 268.40 94.28 270.30 94.70 C272.20 95.12 274.80 96.15 276.70 97.20 C278.60 98.25 280.43 99.73 281.70 101.00 C282.97 102.27 283.77 103.43 284.30 104.80 C284.83 106.17 284.80 108.47 284.90 109.20" fill="none" stroke="#2dab8b" stroke-width="2.3" stroke-linecap="round" stroke-linejoin="round" opacity="1"/>
<rect x="277.10" y="110.90" width="8.6" height="8.6" fill="none" stroke="#2dab8b" stroke-width="2.4"/>
<path d="M231.50 123.00 C233.75 124.25 240.27 128.63 245.00 130.50 C249.73 132.37 255.43 132.97 259.90 134.20 C264.37 135.43 269.07 136.28 271.80 137.90 C274.53 139.52 275.43 141.90 276.30 143.90 C277.17 145.90 276.88 148.90 277.00 149.90" fill="none" stroke="#16b1d8" stroke-width="2.1" stroke-linecap="round" stroke-linejoin="round" opacity="1"/>
<path d="M231.50 123.00 C233.75 124.13 240.25 128.22 245.00 129.80 C249.75 131.38 255.67 131.55 260.00 132.50 C264.33 133.45 267.83 134.25 271.00 135.50 C274.17 136.75 277.50 138.25 279.00 140.00 C280.50 141.75 280.08 144.17 280.00 146.00 C279.92 147.83 278.75 150.17 278.50 151.00" fill="none" stroke="#16b1d8" stroke-width="2.1" stroke-linecap="round" stroke-linejoin="round" opacity="1"/>
<path d="M231.50 123.00 C233.75 124.33 240.42 129.25 245.00 131.00 C249.58 132.75 255.00 132.58 259.00 133.50 C263.00 134.42 266.42 135.17 269.00 136.50 C271.58 137.83 273.42 139.42 274.50 141.50 C275.58 143.58 275.33 147.75 275.50 149.00" fill="none" stroke="#16b1d8" stroke-width="2.1" stroke-linecap="round" stroke-linejoin="round" opacity="1"/>
<path d="M231.50 123.00 C233.73 124.00 240.17 127.63 244.90 129.00 C249.63 130.37 255.67 130.47 259.90 131.20 C264.13 131.93 267.32 132.40 270.30 133.40 C273.28 134.40 275.93 135.70 277.80 137.20 C279.67 138.70 280.77 140.67 281.50 142.40 C282.23 144.13 282.45 145.98 282.20 147.60 C281.95 149.22 280.37 151.35 280.00 152.10" fill="none" stroke="#16b1d8" stroke-width="2.3" stroke-linecap="round" stroke-linejoin="round" opacity="1"/>
<rect x="272.20" y="149.80" width="8.6" height="8.6" fill="none" stroke="#16b1d8" stroke-width="2.4"/>
<path d="M231.50 123.00 C232.42 126.00 234.92 135.75 237.00 141.00 C239.08 146.25 241.58 150.67 244.00 154.50 C246.42 158.33 249.67 161.42 251.50 164.00 C253.33 166.58 255.08 168.67 255.00 170.00 C254.92 171.33 252.83 171.50 251.00 172.00 C249.17 172.50 245.17 172.83 244.00 173.00" fill="none" stroke="#3f7ec5" stroke-width="2.1" stroke-linecap="round" stroke-linejoin="round" opacity="1"/>
<path d="M231.50 123.00 C233.00 126.08 237.75 136.33 240.50 141.50 C243.25 146.67 245.58 150.33 248.00 154.00 C250.42 157.67 253.42 160.92 255.00 163.50 C256.58 166.08 257.67 168.00 257.50 169.50 C257.33 171.00 254.58 172.00 254.00 172.50" fill="none" stroke="#3f7ec5" stroke-width="2.1" stroke-linecap="round" stroke-linejoin="round" opacity="1"/>
<path d="M231.50 123.00 C232.58 126.25 235.75 137.00 238.00 142.50 C240.25 148.00 242.58 152.17 245.00 156.00 C247.42 159.83 250.75 162.92 252.50 165.50 C254.25 168.08 255.92 170.00 255.50 171.50 C255.08 173.00 252.08 173.83 250.00 174.50 C247.92 175.17 244.17 175.33 243.00 175.50" fill="none" stroke="#3f7ec5" stroke-width="2.1" stroke-linecap="round" stroke-linejoin="round" opacity="1"/>
<path d="M231.50 123.00 C232.75 126.23 236.52 136.93 239.00 142.40 C241.48 147.87 243.92 152.07 246.40 155.80 C248.88 159.53 252.15 162.32 253.90 164.80 C255.65 167.28 256.90 169.33 256.90 170.70 C256.90 172.07 255.65 172.50 253.90 173.00 C252.15 173.50 248.55 173.28 246.40 173.70 C244.25 174.12 241.90 175.20 241.00 175.50" fill="none" stroke="#3f7ec5" stroke-width="2.3" stroke-linecap="round" stroke-linejoin="round" opacity="1"/>
<rect x="240.20" y="174.70" width="8.6" height="8.6" fill="none" stroke="#3f7ec5" stroke-width="2.4"/>
<path d="M231.50 123.00 C231.55 124.80 231.68 128.55 231.80 133.80 C231.92 139.05 231.93 148.52 232.20 154.50 C232.47 160.48 234.65 166.75 233.40 169.70 C232.15 172.65 227.53 171.55 224.70 172.20 C221.87 172.85 218.70 173.22 216.40 173.60 C214.10 173.98 211.82 174.35 210.90 174.50" fill="none" stroke="#4a5ba9" stroke-width="2.1" stroke-linecap="round" stroke-linejoin="round" opacity="1"/>
<path d="M231.50 123.00 C231.17 124.33 230.18 126.90 229.50 131.00 C228.82 135.10 228.10 142.53 227.40 147.60 C226.70 152.67 225.98 157.95 225.30 161.40 C224.62 164.85 224.78 166.70 223.30 168.30 C221.82 169.90 218.47 170.43 216.40 171.00 C214.33 171.57 211.82 171.58 210.90 171.70" fill="none" stroke="#4a5ba9" stroke-width="2.3" stroke-linecap="round" stroke-linejoin="round" opacity="1"/>
<rect x="201.00" y="168.10" width="8.6" height="8.6" fill="none" stroke="#4a5ba9" stroke-width="2.4"/>
<path d="M231.50 123.00 C228.98 126.00 220.77 136.13 216.40 141.00 C212.03 145.87 208.52 149.20 205.30 152.20 C202.08 155.20 199.22 158.13 197.10 159.00 C194.98 159.87 194.02 158.57 192.60 157.40 C191.18 156.23 189.92 153.87 188.60 152.00 C187.28 150.13 185.35 147.17 184.70 146.20" fill="none" stroke="#3a3f98" stroke-width="2.1" stroke-linecap="round" stroke-linejoin="round" opacity="1"/>
<path d="M231.50 123.00 C229.55 125.08 223.63 132.00 219.80 135.50 C215.97 139.00 211.93 141.83 208.50 144.00 C205.07 146.17 202.28 147.73 199.20 148.50 C196.12 149.27 192.28 149.18 190.00 148.60 C187.72 148.02 186.25 145.60 185.50 145.00" fill="none" stroke="#3a3f98" stroke-width="2.1" stroke-linecap="round" stroke-linejoin="round" opacity="1"/>
<path d="M231.50 123.00 C229.67 124.80 224.17 130.63 220.50 133.80 C216.83 136.97 212.95 139.93 209.50 142.00 C206.05 144.07 203.02 145.38 199.80 146.20 C196.58 147.02 192.50 147.25 190.20 146.90 C187.90 146.55 186.70 144.57 186.00 144.10" fill="none" stroke="#3a3f98" stroke-width="2.3" stroke-linecap="round" stroke-linejoin="round" opacity="1"/>
<rect x="176.20" y="137.40" width="8.6" height="8.6" fill="none" stroke="#3a3f98" stroke-width="2.4"/>
<path d="M228.00 350.00 C226.00 348.33 219.33 343.08 216.00 341.00 C212.67 338.92 210.07 338.45 208.00 337.50 C205.93 336.55 205.02 336.30 203.60 335.30 C202.18 334.30 200.52 332.88 199.50 331.50 C198.48 330.12 197.87 329.25 197.50 327.00 C197.13 324.75 197.18 320.83 197.30 318.00 C197.42 315.17 197.92 311.83 198.20 310.00 C198.48 308.17 199.53 307.70 199.00 307.00 C198.47 306.30 197.17 306.00 195.00 305.80 C192.83 305.60 187.83 305.52 186.00 305.80 C184.17 306.08 184.42 305.97 184.00 307.50 C183.58 309.03 183.58 311.25 183.50 315.00 C183.42 318.75 183.42 325.83 183.50 330.00 C183.58 334.17 183.53 337.58 184.00 340.00 C184.47 342.42 184.97 343.50 186.30 344.50 C187.63 345.50 189.88 345.70 192.00 346.00 C194.12 346.30 195.00 345.88 199.00 346.30 C203.00 346.72 211.17 347.72 216.00 348.50 C220.83 349.28 226.00 350.75 228.00 351.00 C230.00 351.25 230.00 351.67 228.00 350.00Z" fill="#f7b538" stroke="#f7b538" stroke-width="0.8" stroke-linejoin="round"/>
<path d="M228.90 349.40 C227.57 347.78 223.98 341.87 221.70 338.10 C219.42 334.33 217.22 330.82 215.20 326.80 C213.18 322.78 210.67 316.95 209.60 314.00 C208.53 311.05 208.13 310.98 208.80 309.10 C209.47 307.22 211.45 305.10 213.60 302.70 C215.75 300.30 219.55 296.72 221.70 294.70 C223.85 292.68 225.03 291.42 226.50 290.60 C227.97 289.78 229.30 289.53 230.50 289.80 C231.70 290.07 233.03 291.12 233.70 292.20 C234.37 293.28 234.37 294.28 234.50 296.30 C234.63 298.32 235.03 302.70 234.50 304.30 C233.97 305.90 232.90 305.50 231.30 305.90 C229.70 306.30 226.50 305.90 224.90 306.70 C223.30 307.50 222.10 308.42 221.70 310.70 C221.30 312.98 221.70 316.37 222.50 320.40 C223.30 324.43 225.30 330.33 226.50 334.90 C227.70 339.47 229.30 345.38 229.70 347.80 C230.10 350.22 230.23 351.02 228.90 349.40Z" fill="#8cbd40" stroke="#8cbd40" stroke-width="0.8" stroke-linejoin="round"/>
<path d="M229.80 349.50 C230.22 346.83 233.08 338.85 234.70 333.50 C236.32 328.15 237.90 321.70 239.50 317.40 C241.10 313.10 242.70 310.12 244.30 307.70 C245.90 305.28 247.48 303.75 249.10 302.90 C250.72 302.05 252.25 302.33 254.00 302.60 C255.75 302.87 257.47 304.05 259.60 304.50 C261.73 304.95 264.65 305.03 266.80 305.30 C268.95 305.57 271.37 305.17 272.50 306.10 C273.63 307.03 273.73 309.30 273.60 310.90 C273.47 312.50 272.15 314.22 271.70 315.70 C271.25 317.18 272.65 319.12 270.90 319.80 C269.15 320.48 263.00 320.75 261.20 319.80 C259.40 318.85 260.77 315.58 260.10 314.10 C259.43 312.62 258.22 311.43 257.20 310.90 C256.18 310.37 255.35 310.10 254.00 310.90 C252.65 311.70 250.98 312.75 249.10 315.70 C247.22 318.65 244.83 324.03 242.70 328.60 C240.57 333.17 238.05 339.62 236.30 343.10 C234.55 346.58 233.28 348.43 232.20 349.50 C231.12 350.57 229.38 352.17 229.80 349.50Z" fill="#2dab8b" stroke="#2dab8b" stroke-width="0.8" stroke-linejoin="round"/>
<path d="M231.40 350.30 C233.42 348.82 240.00 345.23 244.30 343.10 C248.60 340.97 253.45 338.97 257.20 337.50 C260.95 336.03 263.58 335.18 266.80 334.30 C270.02 333.42 274.22 332.48 276.50 332.20 C278.78 331.92 279.17 331.85 280.50 332.60 C281.83 333.35 283.55 334.95 284.50 336.70 C285.45 338.45 285.78 340.15 286.20 343.10 C286.62 346.05 287.55 352.20 287.00 354.40 C286.45 356.60 284.65 356.03 282.90 356.30 C281.15 356.57 277.83 357.13 276.50 356.00 C275.17 354.87 275.43 351.12 274.90 349.50 C274.37 347.88 274.65 346.97 273.30 346.30 C271.95 345.63 269.48 345.50 266.80 345.50 C264.12 345.50 260.95 345.83 257.20 346.30 C253.45 346.77 248.47 347.35 244.30 348.30 C240.13 349.25 234.35 351.67 232.20 352.00 C230.05 352.33 229.38 351.78 231.40 350.30Z" fill="#16b1d8" stroke="#16b1d8" stroke-width="0.8" stroke-linejoin="round"/>
<path d="M229.70 351.40 C231.03 351.40 235.55 353.35 239.30 354.70 C243.05 356.05 248.18 358.03 252.20 359.50 C256.22 360.97 259.92 362.43 263.40 363.50 C266.88 364.57 270.68 364.97 273.10 365.90 C275.52 366.83 277.10 367.75 277.90 369.10 C278.70 370.45 278.43 371.58 277.90 374.00 C277.37 376.42 275.50 380.38 274.70 383.60 C273.90 386.82 273.63 391.15 273.10 393.30 C272.57 395.45 272.57 396.10 271.50 396.50 C270.43 396.90 268.32 396.23 266.70 395.70 C265.08 395.17 262.88 394.50 261.80 393.30 C260.72 392.10 260.40 390.38 260.20 388.50 C260.00 386.62 260.07 383.35 260.60 382.00 C261.13 380.65 263.47 381.47 263.40 380.40 C263.33 379.33 262.07 377.48 260.20 375.60 C258.33 373.72 255.42 371.52 252.20 369.10 C248.98 366.68 244.38 363.50 240.90 361.10 C237.42 358.70 233.17 356.32 231.30 354.70 C229.43 353.08 228.37 351.40 229.70 351.40Z" fill="#3f7ec5" stroke="#3f7ec5" stroke-width="0.8" stroke-linejoin="round"/>
<path d="M228.90 351.40 C229.85 352.62 231.43 356.00 232.90 359.50 C234.37 363.00 236.50 368.38 237.70 372.40 C238.90 376.42 239.83 380.38 240.10 383.60 C240.37 386.82 239.97 389.55 239.30 391.70 C238.63 393.85 236.77 394.63 236.10 396.50 C235.43 398.37 235.57 401.15 235.30 402.90 C235.03 404.65 236.52 406.32 234.50 407.00 C232.48 407.68 225.13 408.75 223.20 407.00 C221.27 405.25 221.82 398.38 222.90 396.50 C223.98 394.62 227.90 396.23 229.70 395.70 C231.50 395.17 232.77 395.05 233.70 393.30 C234.63 391.55 235.30 388.68 235.30 385.20 C235.30 381.72 234.63 376.68 233.70 372.40 C232.77 368.12 230.78 362.87 229.70 359.50 C228.62 356.13 227.33 353.55 227.20 352.20 C227.07 350.85 227.95 350.18 228.90 351.40Z" fill="#4a5ba9" stroke="#4a5ba9" stroke-width="0.8" stroke-linejoin="round"/>
<path d="M227.40 352.60 C227.50 353.77 227.43 357.25 226.80 360.20 C226.17 363.15 224.87 367.15 223.60 370.30 C222.33 373.45 220.57 376.37 219.20 379.10 C217.83 381.83 216.45 384.58 215.40 386.70 C214.35 388.82 214.17 390.75 212.90 391.80 C211.63 392.85 210.12 392.80 207.80 393.00 C205.48 393.20 201.95 393.03 199.00 393.00 C196.05 392.97 192.10 393.22 190.10 392.80 C188.10 392.38 187.52 392.35 187.00 390.50 C186.48 388.65 186.07 383.28 187.00 381.70 C187.93 380.12 190.82 381.00 192.60 381.00 C194.38 381.00 196.63 381.17 197.70 381.70 C198.77 382.23 198.27 383.37 199.00 384.20 C199.73 385.03 200.73 386.70 202.10 386.70 C203.47 386.70 205.62 385.88 207.20 384.20 C208.78 382.52 209.82 379.55 211.60 376.60 C213.38 373.65 216.00 369.67 217.90 366.50 C219.80 363.33 221.62 359.82 223.00 357.60 C224.38 355.38 225.47 354.03 226.20 353.20 C226.93 352.37 227.30 351.43 227.40 352.60Z" fill="#3a3f98" stroke="#3a3f98" stroke-width="0.8" stroke-linejoin="round"/>
<path d="M183.50 308.50 C182.88 309.08 180.62 310.42 179.80 312.00 C178.98 313.58 178.43 315.42 178.60 318.00 C178.77 320.58 180.03 324.50 180.80 327.50 C181.57 330.50 182.42 333.50 183.20 336.00 C183.98 338.50 185.12 341.42 185.50 342.50" fill="none" stroke="#f7b538" stroke-width="1.8" stroke-linecap="round" stroke-linejoin="round" opacity="1"/>
<path d="M227.40 350.70 C224.77 351.43 216.77 353.95 211.60 355.10 C206.43 356.25 200.62 357.18 196.40 357.60 C192.18 358.02 188.62 357.80 186.30 357.60 C183.98 357.40 183.42 357.23 182.50 356.40 C181.58 355.57 181.08 353.23 180.80 352.60" fill="none" stroke="#dfe146" stroke-width="2.8" stroke-linecap="round" stroke-linejoin="round" opacity="1"/>
<path d="M227.40 351.50 C224.77 352.32 216.67 355.15 211.60 356.40 C206.53 357.65 201.10 358.53 197.00 359.00 C192.90 359.47 188.67 359.17 187.00 359.20" fill="none" stroke="#dfe146" stroke-width="2.2" stroke-linecap="round" stroke-linejoin="round" opacity="1"/>
<rect x="173.10" y="346.90" width="7.6" height="7.6" fill="none" stroke="#dfe146" stroke-width="3.0"/>
<path d="M186.2 311 Q186 325 187.5 338" fill="none" stroke="#fff" stroke-width="0.6" opacity="0.75"/>
<path d="M193 310 Q192.8 320 193.6 328" fill="none" stroke="#fff" stroke-width="0.6" opacity="0.75"/>
<path d="M190.5 343.5 Q200 346.5 211 347.6" fill="none" stroke="#fff" stroke-width="0.6" opacity="0.75"/>
<path d="M213.5 306 Q217 301 222 297" fill="none" stroke="#fff" stroke-width="0.6" opacity="0.75"/>
<path d="M225.5 318 Q226.5 330 228.6 341" fill="none" stroke="#fff" stroke-width="0.6" opacity="0.75"/>
<path d="M238.5 334 Q241.5 322 246 312.5" fill="none" stroke="#fff" stroke-width="0.6" opacity="0.75"/>
<path d="M250 342 Q262 337.5 275 335.8" fill="none" stroke="#fff" stroke-width="0.6" opacity="0.75"/>
<path d="M255 347.2 Q265 346.6 273 347.4" fill="none" stroke="#fff" stroke-width="0.6" opacity="0.75"/>
<path d="M245 359.5 Q257 363.5 268 368" fill="none" stroke="#fff" stroke-width="0.6" opacity="0.75"/>
<path d="M262.2 385 Q262.5 389 263.5 393" fill="none" stroke="#fff" stroke-width="0.6" opacity="0.75"/>
<path d="M220.5 366 Q216 374 210.5 382" fill="none" stroke="#fff" stroke-width="0.6" opacity="0.75"/>
<path d="M192 386.6 Q195 388.4 198.5 389.2" fill="none" stroke="#fff" stroke-width="0.6" opacity="0.75"/>
<path d="M235 375 Q236.5 382 237 390" fill="none" stroke="#fff" stroke-width="0.6" opacity="0.75"/>
<path d="M188 341.5 Q194 344 201 344.6" fill="none" stroke="#fff" stroke-width="0.6" opacity="0.75"/>
<path d="M190 313 Q190.5 322 191.5 330" fill="none" stroke="#fff" stroke-width="0.6" opacity="0.75"/>
<path d="M242.5 318 Q245 310 248.5 306.5" fill="none" stroke="#fff" stroke-width="0.6" opacity="0.75"/>
<path d="M245 321 Q248 313 251.5 309.5" fill="none" stroke="#fff" stroke-width="0.6" opacity="0.75"/>
<path d="M227 293.5 Q230 292 232 294.5" fill="none" stroke="#fff" stroke-width="0.6" opacity="0.75"/>
<path d="M270 336.5 Q276 334.5 281 335.2" fill="none" stroke="#fff" stroke-width="0.6" opacity="0.75"/>
<path d="M270.5 371 Q273 374 274 379" fill="none" stroke="#fff" stroke-width="0.6" opacity="0.75"/>
<path d="M203.5 387.5 Q206 386.5 208 384" fill="none" stroke="#fff" stroke-width="0.6" opacity="0.75"/>
<path d="M387.60 349.40 C383.83 349.88 371.10 352.00 365.00 352.30 C358.90 352.60 354.42 351.83 351.00 351.20 C347.58 350.57 346.00 349.62 344.50 348.50 C343.00 347.38 342.42 345.17 342.00 344.50" fill="none" stroke="#dfe146" stroke-width="3.3" stroke-linecap="round" stroke-linejoin="round" opacity="1"/>
<rect x="329.40" y="344.10" width="12.0" height="12.0" rx="0.8" fill="#dfe146"/>
<path d="M333.20 348.90 V351.90 H337.20" fill="none" stroke="#fff" stroke-width="1.1" opacity="0.75"/>
<circle cx="341.6" cy="343.6" r="2.3" fill="#dfe146"/>
<path d="M387.60 349.40 C385.23 348.05 377.63 343.98 373.40 341.30 C369.17 338.62 365.10 335.98 362.20 333.30 C359.30 330.62 357.27 327.58 356.00 325.20 C354.73 322.82 354.60 320.62 354.60 319.00 C354.60 317.38 355.77 316.08 356.00 315.50" fill="none" stroke="#f7b538" stroke-width="3.3" stroke-linecap="round" stroke-linejoin="round" opacity="1"/>
<rect x="343.50" y="306.30" width="12.0" height="12.0" rx="0.8" fill="#f7b538"/>
<path d="M347.30 311.10 V314.10 H351.30" fill="none" stroke="#fff" stroke-width="1.1" opacity="0.75"/>
<circle cx="358.6" cy="314.2" r="2.3" fill="#f7b538"/>
<path d="M387.60 349.40 C386.87 346.72 384.27 338.67 383.20 333.30 C382.13 327.93 381.15 321.75 381.20 317.20 C381.25 312.65 382.53 308.62 383.50 306.00 C384.47 303.38 386.42 302.25 387.00 301.50" fill="none" stroke="#8cbd40" stroke-width="3.3" stroke-linecap="round" stroke-linejoin="round" opacity="1"/>
<rect x="381.00" y="290.80" width="12.0" height="12.0" rx="0.8" fill="#8cbd40"/>
<path d="M384.80 295.60 V298.60 H388.80" fill="none" stroke="#fff" stroke-width="1.1" opacity="0.75"/>
<circle cx="391.6" cy="302.6" r="2.3" fill="#8cbd40"/>
<path d="M387.60 349.40 C389.02 346.72 393.08 337.87 396.10 333.30 C399.12 328.73 402.75 324.95 405.70 322.00 C408.65 319.05 411.25 317.17 413.80 315.60 C416.35 314.03 419.80 313.10 421.00 312.60" fill="none" stroke="#2dab8b" stroke-width="3.3" stroke-linecap="round" stroke-linejoin="round" opacity="1"/>
<rect x="419.90" y="306.60" width="12.0" height="12.0" rx="0.8" fill="#2dab8b"/>
<path d="M423.70 311.40 V314.40 H427.70" fill="none" stroke="#fff" stroke-width="1.1" opacity="0.75"/>
<path d="M387.60 349.40 C391.13 348.85 402.05 346.65 408.80 346.10 C415.55 345.55 423.32 345.75 428.10 346.10 C432.88 346.45 435.93 347.85 437.50 348.20" fill="none" stroke="#16b1d8" stroke-width="3.3" stroke-linecap="round" stroke-linejoin="round" opacity="1"/>
<rect x="435.90" y="343.60" width="12.0" height="12.0" rx="0.8" fill="#16b1d8"/>
<path d="M439.70 348.40 V351.40 H443.70" fill="none" stroke="#fff" stroke-width="1.1" opacity="0.75"/>
<path d="M387.60 349.40 C390.27 351.05 398.90 355.62 403.60 359.30 C408.30 362.98 412.58 367.63 415.80 371.50 C419.02 375.37 421.72 380.67 422.90 382.50" fill="none" stroke="#3f7ec5" stroke-width="3.3" stroke-linecap="round" stroke-linejoin="round" opacity="1"/>
<rect x="419.90" y="380.90" width="12.0" height="12.0" rx="0.8" fill="#3f7ec5"/>
<path d="M423.70 385.70 V388.70 H427.70" fill="none" stroke="#fff" stroke-width="1.1" opacity="0.75"/>
<path d="M387.60 349.40 C388.07 352.22 389.78 360.57 390.40 366.30 C391.02 372.03 391.58 378.68 391.30 383.80 C391.02 388.92 389.13 394.80 388.70 397.00" fill="none" stroke="#4a5ba9" stroke-width="3.3" stroke-linecap="round" stroke-linejoin="round" opacity="1"/>
<rect x="381.40" y="396.60" width="12.0" height="12.0" rx="0.8" fill="#4a5ba9"/>
<path d="M385.20 401.40 V404.40 H389.20" fill="none" stroke="#fff" stroke-width="1.1" opacity="0.75"/>
<path d="M387.60 349.40 C385.58 351.63 379.55 358.53 375.50 362.80 C371.45 367.07 366.80 371.88 363.30 375.00 C359.80 378.12 355.97 380.42 354.50 381.50" fill="none" stroke="#3a3f98" stroke-width="3.3" stroke-linecap="round" stroke-linejoin="round" opacity="1"/>
<rect x="343.50" y="380.90" width="12.0" height="12.0" rx="0.8" fill="#3a3f98"/>
<path d="M347.30 385.70 V388.70 H351.30" fill="none" stroke="#fff" stroke-width="1.1" opacity="0.75"/>
<defs><linearGradient id="cyl" x1="0" x2="1" y1="0" y2="0"><stop offset="0" stop-color="#e0e0e0"/><stop offset="0.5" stop-color="#a8a8a8"/><stop offset="1" stop-color="#6e6e6e"/></linearGradient></defs>
<path d="M125.8 122 L125.8 130 A4.45 1.6 0 0 0 134.7 130 L134.7 122 Z" fill="url(#cyl)" stroke="#222" stroke-width="0.5"/>
<ellipse cx="130.25" cy="122" rx="4.45" ry="1.6" fill="#9a9a9a" stroke="#222" stroke-width="0.5"/>
<path d="M121.4 139.5 L121.4 150 A7.3 2 0 0 0 136 150 L136 139.5 Z" fill="url(#cyl)" stroke="#222" stroke-width="0.5"/>
<ellipse cx="128.7" cy="139.5" rx="7.3" ry="2.2" fill="#777" stroke="#222" stroke-width="0.5"/>
<path d="M127.5 136 L134 136.5 L134.5 140.5 L128 140.5 Z" fill="#555" stroke="#222" stroke-width="0.4"/>
<path d="M89.5 86 L92.2 84.8 L126.4 96.7 L126.3 137.8 L121 138 L89.6 125.5 Z" fill="#6f7173" stroke="#222" stroke-width="0.6"/>
<path d="M89.5 86 L122 97.5 L122 138 L89.6 125.5 Z" fill="#8a8c8e" stroke="#222" stroke-width="0.6"/>
<path d="M92.4 90.3 L120.3 100.4 L120.3 134.8 L92.6 124.3 Z" fill="#221e20"/>
<path d="M113.4 106.2 Q104 108.5 97.4 116.6" fill="none" stroke="#fff" stroke-width="0.9" stroke-dasharray="1.6 1.2"/>
<rect x="112.7" y="102.6" width="4.2" height="5.2" fill="#e84a2a" transform="rotate(18 114.8 105.2)"/>
<path d="M101 104 Q97.5 110 97.4 118" fill="none" stroke="#f0e020" stroke-width="1.6"/>
<circle cx="101" cy="103.3" r="2.6" fill="#f2e21c"/>
<rect x="96.1" y="118" width="2.8" height="4.2" fill="#9a9a7a"/>
<path d="M111.3 156.8 L125.2 137.2" stroke="#555" stroke-width="1.6"/>
<path d="M119.5 157.5 L132.2 139.7" stroke="#555" stroke-width="1.6"/>
<path d="M87.5 152.3 L112 157.1" stroke="#333" stroke-width="2.8" stroke-linecap="round"/>
<path d="M87.5 152.3 L112 157.1" stroke="#8a8a8a" stroke-width="1.6"/>
<circle cx="111.6" cy="157" r="2.6" fill="#5a5a5a" stroke="#222" stroke-width="0.5"/>
<circle cx="119.6" cy="158" r="2.6" fill="#5a5a5a" stroke="#222" stroke-width="0.5"/>
<path d="M75.8 150.5 L78 148.6 L88 149 L88.2 153.5 L86.5 157.6 L76 156.5 Z" fill="#8a8a8a" stroke="#222" stroke-width="0.6"/>
<path d="M75.8 150.5 L86.5 151.5 L88 149" fill="none" stroke="#222" stroke-width="0.5"/>
<rect x="79.6" y="146" width="3.6" height="4" fill="#666" stroke="#222" stroke-width="0.4"/>
<path d="M81.2 135.5 V147.5" stroke="#444" stroke-width="1.6"/>
<circle cx="81.2" cy="134.3" r="2.4" fill="#5a5a5a" stroke="#222" stroke-width="0.5"/>
<path d="M38.4 94.8 C40 93.3 42.6 92.6 45.5 92.4 C49.5 92.2 53 92.8 55.6 94.2 C57.6 95.3 59.2 96.7 59.8 98.2 L60.3 100.5 C60.8 102.6 61.8 105 62.4 107.2 C63 109.5 62.8 111.5 61.8 113 C60.8 114.8 58.6 115.9 56 116.2 C54.5 116.4 53.2 116.6 52.6 116.8 C51.6 118.5 51.2 121 50.9 123.3 C50.6 126 50.3 128 50.3 130.5 C50 133.5 49 136.5 47.8 138.6 L47.8 139.5 C55 139.5 66 139.6 75.1 139.5 C78.5 139.2 81.4 138.4 85.2 138.2 L85.6 145.8 C80 146.2 74 146.8 68 147.6 C62 148.4 57 150 52.4 151.4 C50 151.8 47 151.2 44.2 150.9 C44 156 43.4 162 41.8 169 L13.5 169 C12.6 162 12.2 154 12.5 146 C13 136 14.8 127 18.2 119.5 C20 115 22.5 111.5 25 110.3 C28 108.6 31.5 107.3 35.9 105.7 C36 102 36.8 98 38.4 94.8 Z" fill="#b07d44" stroke="#1a1a1a" stroke-width="0.75" stroke-linejoin="round"/>
<path d="M56.2 100.6 C58 100 59.8 100.2 60.4 101.2 C61.2 103.2 62 105.5 62.5 107.6 C62.9 109.6 62.6 111.6 61.6 113.1 C60.6 114.7 58.6 115.8 56.2 116.1 C55.2 114.5 54.6 112 54.6 109.6 C54.6 106.5 55 103.2 56.2 100.6 Z" fill="#eec0b6"/>
<path d="M56.4 100.9 L59.5 100.4" stroke="#1a1a1a" stroke-width="0.7"/>
<path d="M57 102.2 C57.8 101.6 58.6 101.8 58.8 102.6" stroke="#1a1a1a" stroke-width="0.6" fill="none"/>
<path d="M55.8 113.3 C57.5 113.6 59.5 113.5 61.4 112.9" stroke="#3a2a2a" stroke-width="0.45" fill="none"/>
<path d="M46.7 114 C48.8 115.5 50.8 116.3 52.9 116.7" stroke="#1a1a1a" stroke-width="0.6" fill="none"/>
<ellipse cx="45.4" cy="101.5" rx="2.1" ry="3.3" fill="#eec0b6" stroke="#1a1a1a" stroke-width="0.5"/>
<path d="M46 99.6 C45 100.6 44.8 102.4 45.8 103.6" stroke="#1a1a1a" stroke-width="0.45" fill="none"/>
<path d="M36.9 124.3 C38.5 126 40 127.6 41.6 129.5 C43.5 132.5 45.5 135.5 47.4 138.4" fill="none" stroke="#1a1a1a" stroke-width="0.7"/>
<path d="M23.5 131 C27 137 33 143.5 40 148.8 L44.1 150.8" fill="none" stroke="#1a1a1a" stroke-width="0.7"/>
<circle cx="70.9" cy="335.5" r="25" fill="#d9d9d9" stroke="#a9a9a9" stroke-width="2"/>
<path d="M22.2 335.6 H34" stroke="#58595b" stroke-width="2.2"/>
<path d="M42 335.6 L32.6 330.6 L32.6 340.6 Z" fill="#58595b"/>
<path d="M99.8 335.6 H111" stroke="#58595b" stroke-width="2.2"/>
<path d="M119.4 335.6 L110 330.6 L110 340.6 Z" fill="#58595b"/>
<path d="M92.5 377.5 H70.8 V372" fill="none" stroke="#58595b" stroke-width="2.2"/>
<path d="M70.8 363.8 L65.6 373.4 L76 373.4 Z" fill="#58595b"/>
<path d="M105.2 370.6 C101.5 369 97.2 371 96.5 375.8 C96 379.6 99 381.8 103.6 380.4" fill="none" stroke="#5f5f5f" stroke-width="1.5" stroke-linecap="round"/>
<path d="M97.2 375.5 L103.6 375.5" fill="none" stroke="#5f5f5f" stroke-width="1.1"/>
<path d="M110.6 373.8 L108.3 382.2 C107.8 384.6 109.6 386 112.8 384" fill="none" stroke="#5f5f5f" stroke-width="1.3" stroke-linecap="round"/>
<path d="M106.6 377.2 L112.9 377.2" fill="none" stroke="#5f5f5f" stroke-width="1.0"/>
<defs><marker id="ah" viewBox="0 0 6 6" refX="5.5" refY="3" markerWidth="3.2" markerHeight="3.2" orient="auto"><path d="M0 0 L6 3 L0 6 Z" fill="#111"/></marker></defs>
<path d="M55.2 335.7 C55.5 327 60 321.5 65.3 320.8" fill="none" stroke="#111" stroke-width="1.25"/>
<path d="M65.3 320.8 C73 322 82 331 88 344.1" fill="none" stroke="#111" stroke-width="1.25"/>
<path d="M65.3 320.8 C64.5 333 66 345 69.5 351.2" fill="none" stroke="#111" stroke-width="1.25"/>
<path d="M55.2 335.7 C61 330.5 68 330.5 74.3 333.9" fill="none" stroke="#111" stroke-width="1.25"/>
<path d="M74.3 333.9 C78 331 81.5 328.5 85 326.7" fill="none" stroke="#111" stroke-width="1.25"/>
<path d="M85 326.7 C86.5 332 87.5 338 88 344.1" fill="none" stroke="#111" stroke-width="1.25"/>
<path d="M88 344.1 C82 347 76 349.5 69.5 351.2" fill="none" stroke="#111" stroke-width="1.25"/>
<path d="M69.5 351.2 C72 346 74 340 74.3 333.9" fill="none" stroke="#111" stroke-width="1.25"/>
<circle cx="65.3" cy="320.8" r="3.2" fill="#565656" stroke="#111" stroke-width="1.2"/>
<circle cx="85" cy="326.7" r="3.2" fill="#565656" stroke="#111" stroke-width="1.2"/>
<circle cx="55.2" cy="335.7" r="3.2" fill="#565656" stroke="#111" stroke-width="1.2"/>
<circle cx="74.3" cy="333.9" r="3.2" fill="#565656" stroke="#111" stroke-width="1.2"/>
<circle cx="88" cy="344.1" r="3.2" fill="#565656" stroke="#111" stroke-width="1.2"/>
<circle cx="69.5" cy="351.2" r="3.2" fill="#565656" stroke="#111" stroke-width="1.2"/>
</svg>
</body></html>
